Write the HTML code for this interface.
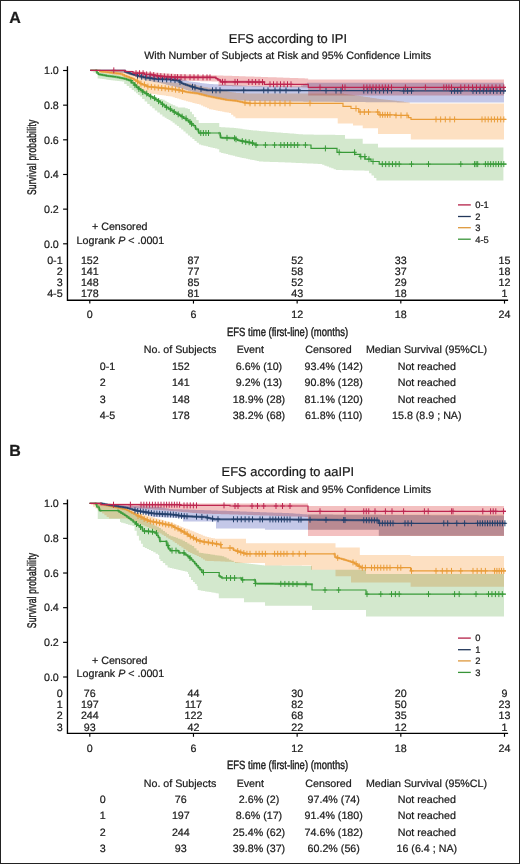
<!DOCTYPE html>
<html><head><meta charset="utf-8"><style>
html,body{margin:0;padding:0;background:#fff;}
svg{display:block;}
text{font-family:"Liberation Sans",sans-serif;fill:#1a1a1a;stroke:#1a1a1a;stroke-width:0.22px;paint-order:stroke;text-rendering:geometricPrecision;}
</style></head><body>
<svg width="520" height="864" viewBox="0 0 520 864">
<rect x="0" y="0" width="520" height="864" fill="#fff"/>
<text x="9.2" y="22.60" font-size="16" font-weight="bold">A</text>
<text x="287.90" y="42.50" text-anchor="middle" font-size="12.9" >EFS according to IPI</text>
<text x="287.70" y="59.40" text-anchor="middle" font-size="10.7" >With Number of Subjects at Risk and 95% Confidence Limits</text>
<path d="M67.45 66.20 V300.20 H508.1" fill="none" stroke="#000" stroke-width="1.35"/>
<path d="M63.1 243.80 H67.4" stroke="#000" stroke-width="1.15"/>
<text x="58.80" y="247.50" text-anchor="end" font-size="10.7" >0.0</text>
<path d="M63.1 209.14 H67.4" stroke="#000" stroke-width="1.15"/>
<text x="58.80" y="212.84" text-anchor="end" font-size="10.7" >0.2</text>
<path d="M63.1 174.48 H67.4" stroke="#000" stroke-width="1.15"/>
<text x="58.80" y="178.18" text-anchor="end" font-size="10.7" >0.4</text>
<path d="M63.1 139.82 H67.4" stroke="#000" stroke-width="1.15"/>
<text x="58.80" y="143.52" text-anchor="end" font-size="10.7" >0.6</text>
<path d="M63.1 105.16 H67.4" stroke="#000" stroke-width="1.15"/>
<text x="58.80" y="108.86" text-anchor="end" font-size="10.7" >0.8</text>
<path d="M63.1 70.50 H67.4" stroke="#000" stroke-width="1.15"/>
<text x="58.80" y="74.20" text-anchor="end" font-size="10.7" >1.0</text>
<path d="M89.80 300.20 V303.60" stroke="#000" stroke-width="1.15"/>
<text x="89.80" y="318.30" text-anchor="middle" font-size="10.7" >0</text>
<path d="M193.47 300.20 V303.60" stroke="#000" stroke-width="1.15"/>
<text x="193.47" y="318.30" text-anchor="middle" font-size="10.7" >6</text>
<path d="M297.15 300.20 V303.60" stroke="#000" stroke-width="1.15"/>
<text x="297.15" y="318.30" text-anchor="middle" font-size="10.7" >12</text>
<path d="M400.82 300.20 V303.60" stroke="#000" stroke-width="1.15"/>
<text x="400.82" y="318.30" text-anchor="middle" font-size="10.7" >18</text>
<path d="M504.50 300.20 V303.60" stroke="#000" stroke-width="1.15"/>
<text x="504.50" y="318.30" text-anchor="middle" font-size="10.7" >24</text>
<text transform="translate(287.5 335.80) scale(0.79 1)" x="0" y="0" text-anchor="middle" font-size="12" style="stroke-width:0.4px">EFS time (first-line) (months)</text>
<text transform="translate(35.9 157.30) rotate(-90) scale(0.68 1)" x="0" y="0" text-anchor="middle" font-size="12.5" letter-spacing="0.3" style="stroke-width:0.38px">Survival probability</text>
<text x="92.00" y="230.40" text-anchor="start" font-size="10.7" >+ Censored</text>
<text x="76.6" y="243.50" font-size="10.7">Logrank <tspan font-style="italic">P</tspan> &lt; .0001</text>
<text x="62.60" y="263.50" text-anchor="end" font-size="10.7" >0-1</text>
<text x="89.80" y="263.50" text-anchor="middle" font-size="10.7" >152</text>
<text x="193.47" y="263.50" text-anchor="middle" font-size="10.7" >87</text>
<text x="297.15" y="263.50" text-anchor="middle" font-size="10.7" >52</text>
<text x="400.82" y="263.50" text-anchor="middle" font-size="10.7" >33</text>
<text x="504.50" y="263.50" text-anchor="middle" font-size="10.7" >15</text>
<text x="62.60" y="274.90" text-anchor="end" font-size="10.7" >2</text>
<text x="89.80" y="274.90" text-anchor="middle" font-size="10.7" >141</text>
<text x="193.47" y="274.90" text-anchor="middle" font-size="10.7" >77</text>
<text x="297.15" y="274.90" text-anchor="middle" font-size="10.7" >58</text>
<text x="400.82" y="274.90" text-anchor="middle" font-size="10.7" >37</text>
<text x="504.50" y="274.90" text-anchor="middle" font-size="10.7" >18</text>
<text x="62.60" y="286.20" text-anchor="end" font-size="10.7" >3</text>
<text x="89.80" y="286.20" text-anchor="middle" font-size="10.7" >148</text>
<text x="193.47" y="286.20" text-anchor="middle" font-size="10.7" >85</text>
<text x="297.15" y="286.20" text-anchor="middle" font-size="10.7" >52</text>
<text x="400.82" y="286.20" text-anchor="middle" font-size="10.7" >29</text>
<text x="504.50" y="286.20" text-anchor="middle" font-size="10.7" >12</text>
<text x="62.60" y="297.40" text-anchor="end" font-size="10.7" >4-5</text>
<text x="89.80" y="297.40" text-anchor="middle" font-size="10.7" >178</text>
<text x="193.47" y="297.40" text-anchor="middle" font-size="10.7" >81</text>
<text x="297.15" y="297.40" text-anchor="middle" font-size="10.7" >43</text>
<text x="400.82" y="297.40" text-anchor="middle" font-size="10.7" >18</text>
<text x="504.50" y="297.40" text-anchor="middle" font-size="10.7" >1</text>
<path d="M458 204.90 H470.8" stroke="#b52248" stroke-width="1.3"/>
<text x="475.20" y="208.20" text-anchor="start" font-size="9.4" >0-1</text>
<path d="M458 216.50 H470.8" stroke="#22375a" stroke-width="1.3"/>
<text x="475.20" y="219.80" text-anchor="start" font-size="9.4" >2</text>
<path d="M458 227.70 H470.8" stroke="#de983c" stroke-width="1.3"/>
<text x="475.20" y="231.00" text-anchor="start" font-size="9.4" >3</text>
<path d="M458 239.20 H470.8" stroke="#389438" stroke-width="1.3"/>
<text x="475.20" y="242.50" text-anchor="start" font-size="9.4" >4-5</text>
<text x="180.00" y="353.40" text-anchor="middle" font-size="10.7" >No. of Subjects</text>
<text x="250.30" y="353.40" text-anchor="middle" font-size="10.7" >Event</text>
<text x="328.50" y="353.40" text-anchor="middle" font-size="10.7" >Censored</text>
<text x="426.50" y="353.40" text-anchor="middle" font-size="10.7" >Median Survival (95%CL)</text>
<text x="99.80" y="369.70" text-anchor="start" font-size="10.7" >0-1</text>
<text x="180.80" y="369.70" text-anchor="middle" font-size="10.7" >152</text>
<text x="259.00" y="369.70" text-anchor="middle" font-size="10.7" >6.6% (10)</text>
<text x="333.70" y="369.70" text-anchor="middle" font-size="10.7" >93.4% (142)</text>
<text x="426.80" y="369.70" text-anchor="middle" font-size="10.7" >Not reached</text>
<text x="99.80" y="386.10" text-anchor="start" font-size="10.7" >2</text>
<text x="180.80" y="386.10" text-anchor="middle" font-size="10.7" >141</text>
<text x="259.00" y="386.10" text-anchor="middle" font-size="10.7" >9.2% (13)</text>
<text x="333.70" y="386.10" text-anchor="middle" font-size="10.7" >90.8% (128)</text>
<text x="426.80" y="386.10" text-anchor="middle" font-size="10.7" >Not reached</text>
<text x="99.80" y="402.50" text-anchor="start" font-size="10.7" >3</text>
<text x="180.80" y="402.50" text-anchor="middle" font-size="10.7" >148</text>
<text x="259.00" y="402.50" text-anchor="middle" font-size="10.7" >18.9% (28)</text>
<text x="333.70" y="402.50" text-anchor="middle" font-size="10.7" >81.1% (120)</text>
<text x="426.80" y="402.50" text-anchor="middle" font-size="10.7" >Not reached</text>
<text x="99.80" y="418.70" text-anchor="start" font-size="10.7" >4-5</text>
<text x="180.80" y="418.70" text-anchor="middle" font-size="10.7" >178</text>
<text x="259.00" y="418.70" text-anchor="middle" font-size="10.7" >38.2% (68)</text>
<text x="333.70" y="418.70" text-anchor="middle" font-size="10.7" >61.8% (110)</text>
<text x="426.80" y="418.70" text-anchor="middle" font-size="10.7" >15.8 (8.9 ; NA)</text>
<path d="M90.20 70.40 L96.30 70.40 L97.65 70.40 L97.65 72.50 L99.00 72.50 L100.09 72.50 L100.09 72.75 L101.19 72.75 L102.28 72.75 L102.28 73.00 L103.38 73.00 L104.47 73.00 L104.47 73.25 L105.56 73.25 L106.66 73.25 L106.66 73.50 L107.75 73.50 L108.84 73.50 L108.84 73.75 L109.94 73.75 L111.03 73.75 L111.03 74.00 L112.12 74.00 L113.22 74.00 L113.22 74.25 L114.31 74.25 L115.41 74.25 L115.41 74.50 L116.50 74.50 L117.47 74.50 L117.47 75.00 L118.43 75.00 L119.40 75.00 L119.40 75.50 L120.37 75.50 L121.33 75.50 L121.33 76.00 L122.30 76.00 L123.26 76.00 L123.26 76.50 L124.22 76.50 L125.19 76.50 L125.19 77.00 L126.15 77.00 L127.11 77.00 L127.11 77.50 L128.07 77.50 L129.04 77.50 L129.04 78.00 L130.00 78.00 L131.50 78.00 L131.50 81.20 L133.00 81.20 L133.97 81.20 L133.97 82.75 L134.95 82.75 L135.93 82.75 L135.93 84.30 L136.90 84.30 L137.88 84.30 L137.88 85.85 L138.85 85.85 L139.83 85.85 L139.83 87.40 L140.80 87.40 L142.08 87.40 L142.08 89.43 L143.37 89.43 L144.65 89.43 L144.65 91.47 L145.93 91.47 L147.22 91.47 L147.22 93.50 L148.50 93.50 L149.75 93.50 L149.75 94.80 L151.00 94.80 L152.25 94.80 L152.25 96.10 L153.50 96.10 L154.75 96.10 L154.75 97.40 L156.00 97.40 L157.28 97.40 L157.28 98.17 L158.57 98.17 L159.85 98.17 L159.85 98.93 L161.13 98.93 L162.42 98.93 L162.42 99.70 L163.70 99.70 L164.67 99.70 L164.67 100.85 L165.65 100.85 L166.62 100.85 L166.62 102.00 L167.60 102.00 L168.57 102.00 L168.57 103.15 L169.55 103.15 L170.53 103.15 L170.53 104.30 L171.50 104.30 L172.75 104.30 L172.75 105.37 L174.00 105.37 L175.25 105.37 L175.25 106.43 L176.50 106.43 L177.75 106.43 L177.75 107.50 L179.00 107.50 L184.00 107.50 L185.25 107.50 L185.25 108.25 L186.50 108.25 L187.75 108.25 L187.75 109.00 L189.00 109.00 L190.00 109.00 L190.00 111.67 L191.00 111.67 L192.00 111.67 L192.00 114.33 L193.00 114.33 L194.00 114.33 L194.00 117.00 L195.00 117.00 L196.25 117.00 L196.25 120.00 L197.50 120.00 L198.75 120.00 L198.75 123.00 L200.00 123.00 L218.50 123.00 L219.25 123.00 L219.25 127.00 L220.00 127.00 L221.07 127.00 L221.07 127.14 L222.14 127.14 L223.21 127.14 L223.21 127.29 L224.29 127.29 L225.36 127.29 L225.36 127.43 L226.43 127.43 L227.50 127.43 L227.50 127.57 L228.57 127.57 L229.64 127.57 L229.64 127.71 L230.71 127.71 L231.79 127.71 L231.79 127.86 L232.86 127.86 L233.93 127.86 L233.93 128.00 L235.00 128.00 L236.07 128.00 L236.07 128.29 L237.14 128.29 L238.21 128.29 L238.21 128.57 L239.29 128.57 L240.36 128.57 L240.36 128.86 L241.43 128.86 L242.50 128.86 L242.50 129.14 L243.57 129.14 L244.64 129.14 L244.64 129.43 L245.71 129.43 L246.79 129.43 L246.79 129.71 L247.86 129.71 L248.93 129.71 L248.93 130.00 L250.00 130.00 L251.00 130.00 L251.00 130.20 L252.00 130.20 L253.00 130.20 L253.00 130.40 L254.00 130.40 L255.00 130.40 L255.00 130.60 L256.00 130.60 L257.00 130.60 L257.00 130.80 L258.00 130.80 L259.00 130.80 L259.00 131.00 L260.00 131.00 L261.10 131.00 L261.10 131.18 L262.20 131.18 L263.30 131.18 L263.30 131.35 L264.40 131.35 L265.50 131.35 L265.50 131.53 L266.60 131.53 L267.70 131.53 L267.70 131.70 L268.80 131.70 L269.90 131.70 L269.90 131.88 L271.00 131.88 L272.10 131.88 L272.10 132.05 L273.20 132.05 L274.30 132.05 L274.30 132.22 L275.40 132.22 L276.50 132.22 L276.50 132.40 L277.60 132.40 L278.70 132.40 L278.70 132.57 L279.80 132.57 L280.90 132.57 L280.90 132.75 L282.00 132.75 L283.10 132.75 L283.10 132.93 L284.20 132.93 L285.30 132.93 L285.30 133.10 L286.40 133.10 L287.50 133.10 L287.50 133.28 L288.60 133.28 L289.70 133.28 L289.70 133.45 L290.80 133.45 L291.90 133.45 L291.90 133.62 L293.00 133.62 L294.10 133.62 L294.10 133.80 L295.20 133.80 L296.30 133.80 L296.30 133.97 L297.40 133.97 L298.50 133.97 L298.50 134.15 L299.60 134.15 L300.70 134.15 L300.70 134.32 L301.80 134.32 L302.90 134.32 L302.90 134.50 L304.00 134.50 L305.08 134.50 L305.08 134.53 L306.16 134.53 L307.24 134.53 L307.24 134.55 L308.32 134.55 L309.39 134.55 L309.39 134.58 L310.47 134.58 L311.55 134.58 L311.55 134.61 L312.63 134.61 L313.71 134.61 L313.71 134.63 L314.79 134.63 L315.87 134.63 L315.87 134.66 L316.95 134.66 L318.03 134.66 L318.03 134.68 L319.11 134.68 L320.18 134.68 L320.18 134.71 L321.26 134.71 L322.34 134.71 L322.34 134.74 L323.42 134.74 L324.50 134.74 L324.50 134.76 L325.58 134.76 L326.66 134.76 L326.66 134.79 L327.74 134.79 L328.82 134.79 L328.82 134.82 L329.89 134.82 L330.97 134.82 L330.97 134.84 L332.05 134.84 L333.13 134.84 L333.13 134.87 L334.21 134.87 L335.29 134.87 L335.29 134.89 L336.37 134.89 L337.45 134.89 L337.45 134.92 L338.53 134.92 L339.61 134.92 L339.61 134.95 L340.68 134.95 L341.76 134.95 L341.76 134.97 L342.84 134.97 L343.92 134.97 L343.92 135.00 L345.00 135.00 L345.00 138.80 L362.70 138.80 L362.70 143.70 L378.00 143.70 L378.00 147.50 L503.40 147.50 L503.40 180.50 L377.60 180.50 L376.38 180.50 L376.38 178.05 L375.15 178.05 L373.93 178.05 L373.93 175.60 L372.70 175.60 L371.48 175.60 L371.48 173.15 L370.25 173.15 L369.02 173.15 L369.02 170.70 L367.80 170.70 L366.70 170.70 L366.70 170.65 L365.60 170.65 L364.50 170.65 L364.50 170.60 L363.40 170.60 L362.30 170.60 L362.30 170.55 L361.20 170.55 L360.10 170.55 L360.10 170.50 L359.00 170.50 L357.90 170.50 L357.90 170.45 L356.80 170.45 L355.70 170.45 L355.70 170.40 L354.60 170.40 L353.50 170.40 L353.50 170.35 L352.40 170.35 L351.30 170.35 L351.30 170.30 L350.20 170.30 L349.10 170.30 L349.10 170.25 L348.00 170.25 L346.90 170.25 L346.90 170.20 L345.80 170.20 L344.70 170.20 L344.70 170.15 L343.60 170.15 L342.50 170.15 L342.50 170.10 L341.40 170.10 L340.30 170.10 L340.30 170.05 L339.20 170.05 L338.10 170.05 L338.10 170.00 L337.00 170.00 L335.86 170.00 L335.86 169.14 L334.71 169.14 L333.57 169.14 L333.57 168.29 L332.43 168.29 L331.29 168.29 L331.29 167.43 L330.14 167.43 L329.00 167.43 L329.00 166.57 L327.86 166.57 L326.71 166.57 L326.71 165.71 L325.57 165.71 L324.43 165.71 L324.43 164.86 L323.29 164.86 L322.14 164.86 L322.14 164.00 L321.00 164.00 L319.90 164.00 L319.90 163.90 L318.80 163.90 L317.70 163.90 L317.70 163.80 L316.60 163.80 L315.50 163.80 L315.50 163.70 L314.40 163.70 L313.30 163.70 L313.30 163.60 L312.20 163.60 L311.10 163.60 L311.10 163.50 L310.00 163.50 L308.90 163.50 L308.90 163.40 L307.80 163.40 L306.70 163.40 L306.70 163.30 L305.60 163.30 L304.50 163.30 L304.50 163.20 L303.40 163.20 L302.30 163.20 L302.30 163.10 L301.20 163.10 L300.10 163.10 L300.10 163.00 L299.00 163.00 L297.90 163.00 L297.90 162.90 L296.80 162.90 L295.70 162.90 L295.70 162.80 L294.60 162.80 L293.50 162.80 L293.50 162.70 L292.40 162.70 L291.30 162.70 L291.30 162.60 L290.20 162.60 L289.10 162.60 L289.10 162.50 L288.00 162.50 L286.92 162.50 L286.92 162.42 L285.85 162.42 L284.77 162.42 L284.77 162.35 L283.69 162.35 L282.62 162.35 L282.62 162.27 L281.54 162.27 L280.46 162.27 L280.46 162.19 L279.38 162.19 L278.31 162.19 L278.31 162.12 L277.23 162.12 L276.15 162.12 L276.15 162.04 L275.08 162.04 L274.00 162.04 L274.00 161.96 L272.92 161.96 L271.85 161.96 L271.85 161.88 L270.77 161.88 L269.69 161.88 L269.69 161.81 L268.62 161.81 L267.54 161.81 L267.54 161.73 L266.46 161.73 L265.38 161.73 L265.38 161.65 L264.31 161.65 L263.23 161.65 L263.23 161.58 L262.15 161.58 L261.08 161.58 L261.08 161.50 L260.00 161.50 L258.90 161.50 L258.90 161.04 L257.80 161.04 L256.70 161.04 L256.70 160.58 L255.60 160.58 L254.50 160.58 L254.50 160.12 L253.40 160.12 L252.30 160.12 L252.30 159.66 L251.20 159.66 L250.10 159.66 L250.10 159.20 L249.00 159.20 L247.95 159.20 L247.95 158.76 L246.90 158.76 L245.85 158.76 L245.85 158.32 L244.80 158.32 L243.75 158.32 L243.75 157.88 L242.70 157.88 L241.65 157.88 L241.65 157.44 L240.60 157.44 L239.55 157.44 L239.55 157.00 L238.50 157.00 L237.34 157.00 L237.34 156.41 L236.19 156.41 L235.03 156.41 L235.03 155.82 L233.88 155.82 L232.72 155.82 L232.72 155.24 L231.56 155.24 L230.41 155.24 L230.41 154.65 L229.25 154.65 L228.09 154.65 L228.09 154.06 L226.94 154.06 L225.78 154.06 L225.78 153.48 L224.62 153.48 L223.47 153.48 L223.47 152.89 L222.31 152.89 L221.16 152.89 L221.16 152.30 L220.00 152.30 L219.25 152.30 L219.25 149.20 L218.50 149.20 L217.34 149.20 L217.34 148.62 L216.19 148.62 L215.03 148.62 L215.03 148.05 L213.88 148.05 L212.72 148.05 L212.72 147.47 L211.56 147.47 L210.41 147.47 L210.41 146.90 L209.25 146.90 L208.09 146.90 L208.09 146.32 L206.94 146.32 L205.78 146.32 L205.78 145.75 L204.62 145.75 L203.47 145.75 L203.47 145.17 L202.31 145.17 L201.16 145.17 L201.16 144.60 L200.00 144.60 L198.90 144.60 L198.90 142.76 L197.80 142.76 L196.70 142.76 L196.70 140.92 L195.60 140.92 L194.50 140.92 L194.50 139.08 L193.40 139.08 L192.30 139.08 L192.30 137.24 L191.20 137.24 L190.10 137.24 L190.10 135.40 L189.00 135.40 L187.88 135.40 L187.88 133.47 L186.75 133.47 L185.62 133.47 L185.62 131.55 L184.50 131.55 L183.38 131.55 L183.38 129.62 L182.25 129.62 L181.12 129.62 L181.12 127.70 L180.00 127.70 L178.94 127.70 L178.94 126.08 L177.88 126.08 L176.81 126.08 L176.81 124.45 L175.75 124.45 L174.69 124.45 L174.69 122.83 L173.62 122.83 L172.56 122.83 L172.56 121.20 L171.50 121.20 L170.53 121.20 L170.53 120.05 L169.55 120.05 L168.57 120.05 L168.57 118.90 L167.60 118.90 L166.62 118.90 L166.62 117.75 L165.65 117.75 L164.67 117.75 L164.67 116.60 L163.70 116.60 L162.42 116.60 L162.42 114.57 L161.13 114.57 L159.85 114.57 L159.85 112.53 L158.57 112.53 L157.28 112.53 L157.28 110.50 L156.00 110.50 L154.75 110.50 L154.75 108.33 L153.50 108.33 L152.25 108.33 L152.25 106.17 L151.00 106.17 L149.75 106.17 L149.75 104.00 L148.50 104.00 L147.22 104.00 L147.22 101.50 L145.93 101.50 L144.65 101.50 L144.65 99.00 L143.37 99.00 L142.08 99.00 L142.08 96.50 L140.80 96.50 L139.83 96.50 L139.83 94.88 L138.85 94.88 L137.88 94.88 L137.88 93.25 L136.90 93.25 L135.93 93.25 L135.93 91.62 L134.95 91.62 L133.97 91.62 L133.97 90.00 L133.00 90.00 L131.73 90.00 L131.73 88.00 L130.47 88.00 L129.20 88.00 L129.20 86.00 L127.93 86.00 L126.67 86.00 L126.67 84.00 L125.40 84.00 L124.20 84.00 L124.20 81.60 L123.00 81.60 L121.85 81.60 L121.85 81.32 L120.70 81.32 L119.55 81.32 L119.55 81.05 L118.40 81.05 L117.25 81.05 L117.25 80.78 L116.10 80.78 L114.95 80.78 L114.95 80.50 L113.80 80.50 L112.74 80.50 L112.74 80.21 L111.69 80.21 L110.63 80.21 L110.63 79.93 L109.57 79.93 L108.51 79.93 L108.51 79.64 L107.46 79.64 L106.40 79.64 L106.40 79.36 L105.34 79.36 L104.29 79.36 L104.29 79.07 L103.23 79.07 L102.17 79.07 L102.17 78.79 L101.11 78.79 L100.06 78.79 L100.06 78.50 L99.00 78.50 L97.65 78.50 L97.65 73.50 L96.30 73.50 L95.28 73.50 L95.28 72.47 L94.27 72.47 L93.25 72.47 L93.25 71.43 L92.23 71.43 L91.22 71.43 L91.22 70.40 L90.20 70.40Z" fill="#d3e8cd" style="mix-blend-mode:multiply"/>
<path d="M90.20 70.30 L100.00 70.30 L101.08 70.30 L101.08 70.42 L102.15 70.42 L103.22 70.42 L103.22 70.54 L104.30 70.54 L105.38 70.54 L105.38 70.66 L106.45 70.66 L107.53 70.66 L107.53 70.78 L108.60 70.78 L109.67 70.78 L109.67 70.90 L110.75 70.90 L111.83 70.90 L111.83 71.02 L112.90 71.02 L113.97 71.02 L113.97 71.14 L115.05 71.14 L116.12 71.14 L116.12 71.26 L117.20 71.26 L118.28 71.26 L118.28 71.38 L119.35 71.38 L120.42 71.38 L120.42 71.50 L121.50 71.50 L122.65 71.50 L122.65 71.90 L123.80 71.90 L124.95 71.90 L124.95 72.30 L126.10 72.30 L127.25 72.30 L127.25 72.70 L128.40 72.70 L129.55 72.70 L129.55 73.10 L130.70 73.10 L131.85 73.10 L131.85 73.50 L133.00 73.50 L134.16 73.50 L134.16 74.20 L135.32 74.20 L136.48 74.20 L136.48 74.90 L137.64 74.90 L138.80 74.90 L138.80 75.60 L139.96 75.60 L141.12 75.60 L141.12 76.30 L142.28 76.30 L143.44 76.30 L143.44 77.00 L144.60 77.00 L145.70 77.00 L145.70 77.66 L146.80 77.66 L147.90 77.66 L147.90 78.31 L149.00 78.31 L150.10 78.31 L150.10 78.97 L151.20 78.97 L152.30 78.97 L152.30 79.63 L153.40 79.63 L154.50 79.63 L154.50 80.29 L155.60 80.29 L156.70 80.29 L156.70 80.94 L157.80 80.94 L158.90 80.94 L158.90 81.60 L160.00 81.60 L161.07 81.60 L161.07 81.74 L162.14 81.74 L163.21 81.74 L163.21 81.87 L164.29 81.87 L165.36 81.87 L165.36 82.01 L166.43 82.01 L167.50 82.01 L167.50 82.14 L168.57 82.14 L169.64 82.14 L169.64 82.28 L170.71 82.28 L171.79 82.28 L171.79 82.41 L172.86 82.41 L173.93 82.41 L173.93 82.55 L175.00 82.55 L176.07 82.55 L176.07 82.69 L177.14 82.69 L178.21 82.69 L178.21 82.82 L179.29 82.82 L180.36 82.82 L180.36 82.96 L181.43 82.96 L182.50 82.96 L182.50 83.09 L183.57 83.09 L184.64 83.09 L184.64 83.23 L185.71 83.23 L186.79 83.23 L186.79 83.36 L187.86 83.36 L188.93 83.36 L188.93 83.50 L190.00 83.50 L191.00 83.50 L191.00 84.00 L192.00 84.00 L193.00 84.00 L193.00 84.50 L194.00 84.50 L195.00 84.50 L195.00 85.00 L196.00 85.00 L197.00 85.00 L197.00 85.50 L198.00 85.50 L199.00 85.50 L199.00 86.00 L200.00 86.00 L201.11 86.00 L201.11 86.44 L202.22 86.44 L203.33 86.44 L203.33 86.89 L204.44 86.89 L205.56 86.89 L205.56 87.33 L206.67 87.33 L207.78 87.33 L207.78 87.78 L208.89 87.78 L210.00 87.78 L210.00 88.22 L211.11 88.22 L212.22 88.22 L212.22 88.67 L213.33 88.67 L214.44 88.67 L214.44 89.11 L215.56 89.11 L216.67 89.11 L216.67 89.56 L217.78 89.56 L218.89 89.56 L218.89 90.00 L220.00 90.00 L221.06 90.00 L221.06 90.38 L222.12 90.38 L223.19 90.38 L223.19 90.75 L224.25 90.75 L225.31 90.75 L225.31 91.12 L226.38 91.12 L227.44 91.12 L227.44 91.50 L228.50 91.50 L229.56 91.50 L229.56 91.88 L230.62 91.88 L231.69 91.88 L231.69 92.25 L232.75 92.25 L233.81 92.25 L233.81 92.62 L234.88 92.62 L235.94 92.62 L235.94 93.00 L237.00 93.00 L238.08 93.00 L238.08 93.08 L239.17 93.08 L240.25 93.08 L240.25 93.17 L241.33 93.17 L242.42 93.17 L242.42 93.25 L243.50 93.25 L244.58 93.25 L244.58 93.33 L245.67 93.33 L246.75 93.33 L246.75 93.42 L247.83 93.42 L248.92 93.42 L248.92 93.50 L250.00 93.50 L251.11 93.50 L251.11 93.50 L252.21 93.50 L253.32 93.50 L253.32 93.50 L254.43 93.50 L255.54 93.50 L255.54 93.51 L256.64 93.51 L257.75 93.51 L257.75 93.51 L258.86 93.51 L259.96 93.51 L259.96 93.51 L261.07 93.51 L262.18 93.51 L262.18 93.51 L263.29 93.51 L264.39 93.51 L264.39 93.52 L265.50 93.52 L266.61 93.52 L266.61 93.52 L267.71 93.52 L268.82 93.52 L268.82 93.52 L269.93 93.52 L271.04 93.52 L271.04 93.52 L272.14 93.52 L273.25 93.52 L273.25 93.53 L274.36 93.53 L275.46 93.53 L275.46 93.53 L276.57 93.53 L277.68 93.53 L277.68 93.53 L278.79 93.53 L279.89 93.53 L279.89 93.53 L281.00 93.53 L282.11 93.53 L282.11 93.54 L283.21 93.54 L284.32 93.54 L284.32 93.54 L285.43 93.54 L286.54 93.54 L286.54 93.54 L287.64 93.54 L288.75 93.54 L288.75 93.54 L289.86 93.54 L290.96 93.54 L290.96 93.55 L292.07 93.55 L293.18 93.55 L293.18 93.55 L294.29 93.55 L295.39 93.55 L295.39 93.55 L296.50 93.55 L297.61 93.55 L297.61 93.55 L298.71 93.55 L299.82 93.55 L299.82 93.55 L300.93 93.55 L302.04 93.55 L302.04 93.56 L303.14 93.56 L304.25 93.56 L304.25 93.56 L305.36 93.56 L306.46 93.56 L306.46 93.56 L307.57 93.56 L308.68 93.56 L308.68 93.56 L309.79 93.56 L310.89 93.56 L310.89 93.57 L312.00 93.57 L313.11 93.57 L313.11 93.57 L314.21 93.57 L315.32 93.57 L315.32 93.57 L316.43 93.57 L317.54 93.57 L317.54 93.57 L318.64 93.57 L319.75 93.57 L319.75 93.58 L320.86 93.58 L321.96 93.58 L321.96 93.58 L323.07 93.58 L324.18 93.58 L324.18 93.58 L325.29 93.58 L326.39 93.58 L326.39 93.58 L327.50 93.58 L328.61 93.58 L328.61 93.59 L329.71 93.59 L330.82 93.59 L330.82 93.59 L331.93 93.59 L333.04 93.59 L333.04 93.59 L334.14 93.59 L335.25 93.59 L335.25 93.59 L336.36 93.59 L337.46 93.59 L337.46 93.60 L338.57 93.60 L339.68 93.60 L339.68 93.60 L340.79 93.60 L341.89 93.60 L341.89 93.60 L343.00 93.60 L344.06 93.60 L344.06 93.90 L345.12 93.90 L346.19 93.90 L346.19 94.20 L347.25 94.20 L348.31 94.20 L348.31 94.50 L349.38 94.50 L350.44 94.50 L350.44 94.80 L351.50 94.80 L352.56 94.80 L352.56 95.10 L353.62 95.10 L354.69 95.10 L354.69 95.40 L355.75 95.40 L356.81 95.40 L356.81 95.70 L357.88 95.70 L358.94 95.70 L358.94 96.00 L360.00 96.00 L361.11 96.00 L361.11 96.33 L362.22 96.33 L363.33 96.33 L363.33 96.67 L364.44 96.67 L365.56 96.67 L365.56 97.00 L366.67 97.00 L367.78 97.00 L367.78 97.33 L368.89 97.33 L370.00 97.33 L370.00 97.67 L371.11 97.67 L372.22 97.67 L372.22 98.00 L373.33 98.00 L374.44 98.00 L374.44 98.33 L375.56 98.33 L376.67 98.33 L376.67 98.67 L377.78 98.67 L378.89 98.67 L378.89 99.00 L380.00 99.00 L381.14 99.00 L381.14 99.26 L382.28 99.26 L383.42 99.26 L383.42 99.52 L384.55 99.52 L385.69 99.52 L385.69 99.78 L386.83 99.78 L387.97 99.78 L387.97 100.05 L389.11 100.05 L390.25 100.05 L390.25 100.31 L391.38 100.31 L392.52 100.31 L392.52 100.57 L393.66 100.57 L394.80 100.57 L394.80 100.83 L395.94 100.83 L397.08 100.83 L397.08 101.09 L398.22 101.09 L399.35 101.09 L399.35 101.35 L400.49 101.35 L401.63 101.35 L401.63 101.62 L402.77 101.62 L403.91 101.62 L403.91 101.88 L405.05 101.88 L406.18 101.88 L406.18 102.14 L407.32 102.14 L408.46 102.14 L408.46 102.40 L409.60 102.40 L409.80 102.40 L409.80 103.50 L410.00 103.50 L504.00 103.50 L504.00 139.60 L410.80 139.60 L410.80 134.00 L378.00 134.00 L378.00 128.30 L362.70 128.30 L362.70 125.40 L353.00 125.40 L353.00 123.50 L337.70 123.50 L337.70 118.30 L236.50 118.30 L235.42 118.30 L235.42 116.53 L234.33 116.53 L233.25 116.53 L233.25 114.77 L232.17 114.77 L231.08 114.77 L231.08 113.00 L230.00 113.00 L228.89 113.00 L228.89 112.58 L227.78 112.58 L226.67 112.58 L226.67 112.16 L225.56 112.16 L224.44 112.16 L224.44 111.73 L223.33 111.73 L222.22 111.73 L222.22 111.31 L221.11 111.31 L220.00 111.31 L220.00 110.89 L218.89 110.89 L217.78 110.89 L217.78 110.47 L216.67 110.47 L215.56 110.47 L215.56 110.04 L214.44 110.04 L213.33 110.04 L213.33 109.62 L212.22 109.62 L211.11 109.62 L211.11 109.20 L210.00 109.20 L209.00 109.20 L209.00 108.28 L208.00 108.28 L207.00 108.28 L207.00 107.36 L206.00 107.36 L205.00 107.36 L205.00 106.44 L204.00 106.44 L203.00 106.44 L203.00 105.52 L202.00 105.52 L201.00 105.52 L201.00 104.60 L200.00 104.60 L198.92 104.60 L198.92 104.03 L197.83 104.03 L196.75 104.03 L196.75 103.47 L195.67 103.47 L194.58 103.47 L194.58 102.90 L193.50 102.90 L192.42 102.90 L192.42 102.33 L191.33 102.33 L190.25 102.33 L190.25 101.77 L189.17 101.77 L188.08 101.77 L188.08 101.20 L187.00 101.20 L185.89 101.20 L185.89 100.54 L184.79 100.54 L183.68 100.54 L183.68 99.89 L182.57 99.89 L181.46 99.89 L181.46 99.23 L180.36 99.23 L179.25 99.23 L179.25 98.57 L178.14 98.57 L177.04 98.57 L177.04 97.91 L175.93 97.91 L174.82 97.91 L174.82 97.26 L173.71 97.26 L172.61 97.26 L172.61 96.60 L171.50 96.60 L170.39 96.60 L170.39 96.27 L169.29 96.27 L168.18 96.27 L168.18 95.94 L167.07 95.94 L165.96 95.94 L165.96 95.61 L164.86 95.61 L163.75 95.61 L163.75 95.29 L162.64 95.29 L161.54 95.29 L161.54 94.96 L160.43 94.96 L159.32 94.96 L159.32 94.63 L158.21 94.63 L157.11 94.63 L157.11 94.30 L156.00 94.30 L154.91 94.30 L154.91 93.97 L153.83 93.97 L152.74 93.97 L152.74 93.64 L151.66 93.64 L150.57 93.64 L150.57 93.31 L149.49 93.31 L148.40 93.31 L148.40 92.99 L147.31 92.99 L146.23 92.99 L146.23 92.66 L145.14 92.66 L144.06 92.66 L144.06 92.33 L142.97 92.33 L141.89 92.33 L141.89 92.00 L140.80 92.00 L139.83 92.00 L139.83 89.50 L138.85 89.50 L137.88 89.50 L137.88 87.00 L136.90 87.00 L135.93 87.00 L135.93 84.50 L134.95 84.50 L133.97 84.50 L133.97 82.00 L133.00 82.00 L131.85 82.00 L131.85 80.80 L130.70 80.80 L129.55 80.80 L129.55 79.60 L128.40 79.60 L127.25 79.60 L127.25 78.40 L126.10 78.40 L124.95 78.40 L124.95 77.20 L123.80 77.20 L122.65 77.20 L122.65 76.00 L121.50 76.00 L120.42 76.00 L120.42 75.60 L119.35 75.60 L118.28 75.60 L118.28 75.20 L117.20 75.20 L116.12 75.20 L116.12 74.80 L115.05 74.80 L113.97 74.80 L113.97 74.40 L112.90 74.40 L111.83 74.40 L111.83 74.00 L110.75 74.00 L109.67 74.00 L109.67 73.60 L108.60 73.60 L107.53 73.60 L107.53 73.20 L106.45 73.20 L105.38 73.20 L105.38 72.80 L104.30 72.80 L103.22 72.80 L103.22 72.40 L102.15 72.40 L101.08 72.40 L101.08 72.00 L100.00 72.00 L98.78 72.00 L98.78 71.60 L97.55 71.60 L96.32 71.60 L96.32 71.20 L95.10 71.20 L93.88 71.20 L93.88 70.80 L92.65 70.80 L91.43 70.80 L91.43 70.40 L90.20 70.40Z" fill="#fde0c2" style="mix-blend-mode:multiply"/>
<path d="M90.20 70.30 L91.29 70.30 L91.29 70.31 L92.38 70.31 L93.46 70.31 L93.46 70.33 L94.55 70.33 L95.64 70.33 L95.64 70.34 L96.73 70.34 L97.81 70.34 L97.81 70.35 L98.90 70.35 L99.99 70.35 L99.99 70.36 L101.08 70.36 L102.16 70.36 L102.16 70.38 L103.25 70.38 L104.34 70.38 L104.34 70.39 L105.42 70.39 L106.51 70.39 L106.51 70.40 L107.60 70.40 L108.69 70.40 L108.69 70.41 L109.78 70.41 L110.86 70.41 L110.86 70.42 L111.95 70.42 L113.04 70.42 L113.04 70.44 L114.12 70.44 L115.21 70.44 L115.21 70.45 L116.30 70.45 L117.39 70.45 L117.39 70.46 L118.47 70.46 L119.56 70.46 L119.56 70.47 L120.65 70.47 L121.74 70.47 L121.74 70.49 L122.83 70.49 L123.91 70.49 L123.91 70.50 L125.00 70.50 L126.00 70.50 L126.00 70.88 L127.00 70.88 L128.00 70.88 L128.00 71.25 L129.00 71.25 L130.00 71.25 L130.00 71.62 L131.00 71.62 L132.00 71.62 L132.00 72.00 L133.00 72.00 L134.20 72.00 L134.20 72.50 L135.40 72.50 L136.60 72.50 L136.60 73.00 L137.80 73.00 L139.00 73.00 L139.00 73.50 L140.20 73.50 L141.40 73.50 L141.40 74.00 L142.60 74.00 L143.80 74.00 L143.80 74.50 L145.00 74.50 L146.07 74.50 L146.07 74.79 L147.14 74.79 L148.21 74.79 L148.21 75.07 L149.29 75.07 L150.36 75.07 L150.36 75.36 L151.43 75.36 L152.50 75.36 L152.50 75.64 L153.57 75.64 L154.64 75.64 L154.64 75.93 L155.71 75.93 L156.79 75.93 L156.79 76.21 L157.86 76.21 L158.93 76.21 L158.93 76.50 L160.00 76.50 L161.06 76.50 L161.06 76.69 L162.12 76.69 L163.19 76.69 L163.19 76.88 L164.25 76.88 L165.31 76.88 L165.31 77.06 L166.38 77.06 L167.44 77.06 L167.44 77.25 L168.50 77.25 L169.56 77.25 L169.56 77.44 L170.62 77.44 L171.69 77.44 L171.69 77.62 L172.75 77.62 L173.81 77.62 L173.81 77.81 L174.88 77.81 L175.94 77.81 L175.94 78.00 L177.00 78.00 L178.08 78.00 L178.08 78.58 L179.17 78.58 L180.25 78.58 L180.25 79.17 L181.33 79.17 L182.42 79.17 L182.42 79.75 L183.50 79.75 L184.58 79.75 L184.58 80.33 L185.67 80.33 L186.75 80.33 L186.75 80.92 L187.83 80.92 L188.92 80.92 L188.92 81.50 L190.00 81.50 L191.11 81.50 L191.11 81.78 L192.22 81.78 L193.33 81.78 L193.33 82.06 L194.44 82.06 L195.56 82.06 L195.56 82.33 L196.67 82.33 L197.78 82.33 L197.78 82.61 L198.89 82.61 L200.00 82.61 L200.00 82.89 L201.11 82.89 L202.22 82.89 L202.22 83.17 L203.33 83.17 L204.44 83.17 L204.44 83.44 L205.56 83.44 L206.67 83.44 L206.67 83.72 L207.78 83.72 L208.89 83.72 L208.89 84.00 L210.00 84.00 L211.11 84.00 L211.11 84.11 L212.22 84.11 L213.33 84.11 L213.33 84.22 L214.44 84.22 L215.56 84.22 L215.56 84.33 L216.67 84.33 L217.78 84.33 L217.78 84.44 L218.89 84.44 L220.00 84.44 L220.00 84.56 L221.11 84.56 L222.22 84.56 L222.22 84.67 L223.33 84.67 L224.44 84.67 L224.44 84.78 L225.56 84.78 L226.67 84.78 L226.67 84.89 L227.78 84.89 L228.89 84.89 L228.89 85.00 L230.00 85.00 L231.11 85.00 L231.11 85.11 L232.22 85.11 L233.33 85.11 L233.33 85.22 L234.44 85.22 L235.56 85.22 L235.56 85.33 L236.67 85.33 L237.78 85.33 L237.78 85.44 L238.89 85.44 L240.00 85.44 L240.00 85.56 L241.11 85.56 L242.22 85.56 L242.22 85.67 L243.33 85.67 L244.44 85.67 L244.44 85.78 L245.56 85.78 L246.67 85.78 L246.67 85.89 L247.78 85.89 L248.89 85.89 L248.89 86.00 L250.00 86.00 L251.09 86.00 L251.09 86.02 L252.17 86.02 L253.26 86.02 L253.26 86.04 L254.35 86.04 L255.43 86.04 L255.43 86.07 L256.52 86.07 L257.61 86.07 L257.61 86.09 L258.70 86.09 L259.78 86.09 L259.78 86.11 L260.87 86.11 L261.96 86.11 L261.96 86.13 L263.04 86.13 L264.13 86.13 L264.13 86.15 L265.22 86.15 L266.30 86.15 L266.30 86.17 L267.39 86.17 L268.48 86.17 L268.48 86.20 L269.57 86.20 L270.65 86.20 L270.65 86.22 L271.74 86.22 L272.83 86.22 L272.83 86.24 L273.91 86.24 L275.00 86.24 L275.00 86.26 L276.09 86.26 L277.17 86.26 L277.17 86.28 L278.26 86.28 L279.35 86.28 L279.35 86.30 L280.43 86.30 L281.52 86.30 L281.52 86.33 L282.61 86.33 L283.70 86.33 L283.70 86.35 L284.78 86.35 L285.87 86.35 L285.87 86.37 L286.96 86.37 L288.04 86.37 L288.04 86.39 L289.13 86.39 L290.22 86.39 L290.22 86.41 L291.30 86.41 L292.39 86.41 L292.39 86.43 L293.48 86.43 L294.57 86.43 L294.57 86.46 L295.65 86.46 L296.74 86.46 L296.74 86.48 L297.83 86.48 L298.91 86.48 L298.91 86.50 L300.00 86.50 L301.00 86.50 L301.00 85.58 L302.00 85.58 L303.00 85.58 L303.00 84.65 L304.00 84.65 L305.00 84.65 L305.00 83.72 L306.00 83.72 L307.00 83.72 L307.00 82.80 L308.00 82.80 L504.00 82.80 L504.00 102.40 L400.00 102.40 L398.89 102.40 L398.89 102.38 L397.78 102.38 L396.67 102.38 L396.67 102.36 L395.56 102.36 L394.44 102.36 L394.44 102.35 L393.33 102.35 L392.22 102.35 L392.22 102.33 L391.11 102.33 L390.00 102.33 L390.00 102.31 L388.89 102.31 L387.78 102.31 L387.78 102.29 L386.67 102.29 L385.56 102.29 L385.56 102.28 L384.44 102.28 L383.33 102.28 L383.33 102.26 L382.22 102.26 L381.11 102.26 L381.11 102.24 L380.00 102.24 L378.89 102.24 L378.89 102.22 L377.78 102.22 L376.67 102.22 L376.67 102.20 L375.56 102.20 L374.44 102.20 L374.44 102.19 L373.33 102.19 L372.22 102.19 L372.22 102.17 L371.11 102.17 L370.00 102.17 L370.00 102.15 L368.89 102.15 L367.78 102.15 L367.78 102.13 L366.67 102.13 L365.56 102.13 L365.56 102.12 L364.44 102.12 L363.33 102.12 L363.33 102.10 L362.22 102.10 L361.11 102.10 L361.11 102.08 L360.00 102.08 L358.89 102.08 L358.89 102.06 L357.78 102.06 L356.67 102.06 L356.67 102.04 L355.56 102.04 L354.44 102.04 L354.44 102.03 L353.33 102.03 L352.22 102.03 L352.22 102.01 L351.11 102.01 L350.00 102.01 L350.00 101.99 L348.89 101.99 L347.78 101.99 L347.78 101.97 L346.67 101.97 L345.56 101.97 L345.56 101.96 L344.44 101.96 L343.33 101.96 L343.33 101.94 L342.22 101.94 L341.11 101.94 L341.11 101.92 L340.00 101.92 L338.89 101.92 L338.89 101.90 L337.78 101.90 L336.67 101.90 L336.67 101.88 L335.56 101.88 L334.44 101.88 L334.44 101.87 L333.33 101.87 L332.22 101.87 L332.22 101.85 L331.11 101.85 L330.00 101.85 L330.00 101.83 L328.89 101.83 L327.78 101.83 L327.78 101.81 L326.67 101.81 L325.56 101.81 L325.56 101.80 L324.44 101.80 L323.33 101.80 L323.33 101.78 L322.22 101.78 L321.11 101.78 L321.11 101.76 L320.00 101.76 L318.89 101.76 L318.89 101.74 L317.78 101.74 L316.67 101.74 L316.67 101.72 L315.56 101.72 L314.44 101.72 L314.44 101.71 L313.33 101.71 L312.22 101.71 L312.22 101.69 L311.11 101.69 L310.00 101.69 L310.00 101.67 L308.89 101.67 L307.78 101.67 L307.78 101.65 L306.67 101.65 L305.56 101.65 L305.56 101.64 L304.44 101.64 L303.33 101.64 L303.33 101.62 L302.22 101.62 L301.11 101.62 L301.11 101.60 L300.00 101.60 L298.91 101.60 L298.91 101.57 L297.83 101.57 L296.74 101.57 L296.74 101.55 L295.65 101.55 L294.57 101.55 L294.57 101.52 L293.48 101.52 L292.39 101.52 L292.39 101.50 L291.30 101.50 L290.22 101.50 L290.22 101.47 L289.13 101.47 L288.04 101.47 L288.04 101.44 L286.96 101.44 L285.87 101.44 L285.87 101.42 L284.78 101.42 L283.70 101.42 L283.70 101.39 L282.61 101.39 L281.52 101.39 L281.52 101.37 L280.43 101.37 L279.35 101.37 L279.35 101.34 L278.26 101.34 L277.17 101.34 L277.17 101.31 L276.09 101.31 L275.00 101.31 L275.00 101.29 L273.91 101.29 L272.83 101.29 L272.83 101.26 L271.74 101.26 L270.65 101.26 L270.65 101.23 L269.57 101.23 L268.48 101.23 L268.48 101.21 L267.39 101.21 L266.30 101.21 L266.30 101.18 L265.22 101.18 L264.13 101.18 L264.13 101.16 L263.04 101.16 L261.96 101.16 L261.96 101.13 L260.87 101.13 L259.78 101.13 L259.78 101.10 L258.70 101.10 L257.61 101.10 L257.61 101.08 L256.52 101.08 L255.43 101.08 L255.43 101.05 L254.35 101.05 L253.26 101.05 L253.26 101.03 L252.17 101.03 L251.09 101.03 L251.09 101.00 L250.00 101.00 L248.93 101.00 L248.93 100.86 L247.86 100.86 L246.79 100.86 L246.79 100.71 L245.71 100.71 L244.64 100.71 L244.64 100.57 L243.57 100.57 L242.50 100.57 L242.50 100.43 L241.43 100.43 L240.36 100.43 L240.36 100.29 L239.29 100.29 L238.21 100.29 L238.21 100.14 L237.14 100.14 L236.07 100.14 L236.07 100.00 L235.00 100.00 L233.93 100.00 L233.93 99.86 L232.86 99.86 L231.79 99.86 L231.79 99.71 L230.71 99.71 L229.64 99.71 L229.64 99.57 L228.57 99.57 L227.50 99.57 L227.50 99.43 L226.43 99.43 L225.36 99.43 L225.36 99.29 L224.29 99.29 L223.21 99.29 L223.21 99.14 L222.14 99.14 L221.07 99.14 L221.07 99.00 L220.00 99.00 L218.89 99.00 L218.89 98.44 L217.78 98.44 L216.67 98.44 L216.67 97.89 L215.56 97.89 L214.44 97.89 L214.44 97.33 L213.33 97.33 L212.22 97.33 L212.22 96.78 L211.11 96.78 L210.00 96.78 L210.00 96.22 L208.89 96.22 L207.78 96.22 L207.78 95.67 L206.67 95.67 L205.56 95.67 L205.56 95.11 L204.44 95.11 L203.33 95.11 L203.33 94.56 L202.22 94.56 L201.11 94.56 L201.11 94.00 L200.00 94.00 L198.89 94.00 L198.89 93.33 L197.78 93.33 L196.67 93.33 L196.67 92.67 L195.56 92.67 L194.44 92.67 L194.44 92.00 L193.33 92.00 L192.22 92.00 L192.22 91.33 L191.11 91.33 L190.00 91.33 L190.00 90.67 L188.89 90.67 L187.78 90.67 L187.78 90.00 L186.67 90.00 L185.56 90.00 L185.56 89.33 L184.44 89.33 L183.33 89.33 L183.33 88.67 L182.22 88.67 L181.11 88.67 L181.11 88.00 L180.00 88.00 L178.89 88.00 L178.89 87.44 L177.78 87.44 L176.67 87.44 L176.67 86.89 L175.56 86.89 L174.44 86.89 L174.44 86.33 L173.33 86.33 L172.22 86.33 L172.22 85.78 L171.11 85.78 L170.00 85.78 L170.00 85.22 L168.89 85.22 L167.78 85.22 L167.78 84.67 L166.67 84.67 L165.56 84.67 L165.56 84.11 L164.44 84.11 L163.33 84.11 L163.33 83.56 L162.22 83.56 L161.11 83.56 L161.11 83.00 L160.00 83.00 L158.93 83.00 L158.93 82.57 L157.86 82.57 L156.79 82.57 L156.79 82.14 L155.71 82.14 L154.64 82.14 L154.64 81.71 L153.57 81.71 L152.50 81.71 L152.50 81.29 L151.43 81.29 L150.36 81.29 L150.36 80.86 L149.29 80.86 L148.21 80.86 L148.21 80.43 L147.14 80.43 L146.07 80.43 L146.07 80.00 L145.00 80.00 L143.89 80.00 L143.89 79.22 L142.78 79.22 L141.67 79.22 L141.67 78.44 L140.56 78.44 L139.44 78.44 L139.44 77.67 L138.33 77.67 L137.22 77.67 L137.22 76.89 L136.11 76.89 L135.00 76.89 L135.00 76.11 L133.89 76.11 L132.78 76.11 L132.78 75.33 L131.67 75.33 L130.56 75.33 L130.56 74.56 L129.44 74.56 L128.33 74.56 L128.33 73.78 L127.22 73.78 L126.11 73.78 L126.11 73.00 L125.00 73.00 L123.91 73.00 L123.91 72.83 L122.83 72.83 L121.74 72.83 L121.74 72.66 L120.65 72.66 L119.56 72.66 L119.56 72.49 L118.47 72.49 L117.39 72.49 L117.39 72.33 L116.30 72.33 L115.21 72.33 L115.21 72.16 L114.12 72.16 L113.04 72.16 L113.04 71.99 L111.95 71.99 L110.86 71.99 L110.86 71.82 L109.78 71.82 L108.69 71.82 L108.69 71.65 L107.60 71.65 L106.51 71.65 L106.51 71.48 L105.42 71.48 L104.34 71.48 L104.34 71.31 L103.25 71.31 L102.16 71.31 L102.16 71.14 L101.08 71.14 L99.99 71.14 L99.99 70.97 L98.90 70.97 L97.81 70.97 L97.81 70.81 L96.73 70.81 L95.64 70.81 L95.64 70.64 L94.55 70.64 L93.46 70.64 L93.46 70.47 L92.38 70.47 L91.29 70.47 L91.29 70.30 L90.20 70.30Z" fill="#c4c8e8" style="mix-blend-mode:multiply"/>
<path d="M90.20 70.30 L125.00 70.30 L126.09 70.30 L126.09 70.47 L127.19 70.47 L128.28 70.47 L128.28 70.64 L129.38 70.64 L130.47 70.64 L130.47 70.81 L131.56 70.81 L132.66 70.81 L132.66 70.97 L133.75 70.97 L134.84 70.97 L134.84 71.14 L135.94 71.14 L137.03 71.14 L137.03 71.31 L138.12 71.31 L139.22 71.31 L139.22 71.48 L140.31 71.48 L141.41 71.48 L141.41 71.65 L142.50 71.65 L143.59 71.65 L143.59 71.82 L144.69 71.82 L145.78 71.82 L145.78 71.99 L146.88 71.99 L147.97 71.99 L147.97 72.16 L149.06 72.16 L150.16 72.16 L150.16 72.33 L151.25 72.33 L152.34 72.33 L152.34 72.49 L153.44 72.49 L154.53 72.49 L154.53 72.66 L155.62 72.66 L156.72 72.66 L156.72 72.83 L157.81 72.83 L158.91 72.83 L158.91 73.00 L160.00 73.00 L161.07 73.00 L161.07 73.14 L162.14 73.14 L163.21 73.14 L163.21 73.29 L164.29 73.29 L165.36 73.29 L165.36 73.43 L166.43 73.43 L167.50 73.43 L167.50 73.57 L168.57 73.57 L169.64 73.57 L169.64 73.71 L170.71 73.71 L171.79 73.71 L171.79 73.86 L172.86 73.86 L173.93 73.86 L173.93 74.00 L175.00 74.00 L176.12 74.00 L176.12 74.08 L177.25 74.08 L178.38 74.08 L178.38 74.15 L179.50 74.15 L180.62 74.15 L180.62 74.22 L181.75 74.22 L182.88 74.22 L182.88 74.30 L184.00 74.30 L185.12 74.30 L185.12 74.38 L186.25 74.38 L187.38 74.38 L187.38 74.45 L188.50 74.45 L189.62 74.45 L189.62 74.53 L190.75 74.53 L191.88 74.53 L191.88 74.60 L193.00 74.60 L194.12 74.60 L194.12 74.67 L195.25 74.67 L196.38 74.67 L196.38 74.75 L197.50 74.75 L198.62 74.75 L198.62 74.83 L199.75 74.83 L200.88 74.83 L200.88 74.90 L202.00 74.90 L203.12 74.90 L203.12 74.97 L204.25 74.97 L205.38 74.97 L205.38 75.05 L206.50 75.05 L207.62 75.05 L207.62 75.12 L208.75 75.12 L209.88 75.12 L209.88 75.20 L211.00 75.20 L212.12 75.20 L212.12 75.28 L213.25 75.28 L214.38 75.28 L214.38 75.35 L215.50 75.35 L216.62 75.35 L216.62 75.42 L217.75 75.42 L218.88 75.42 L218.88 75.50 L220.00 75.50 L221.11 75.50 L221.11 75.57 L222.22 75.57 L223.33 75.57 L223.33 75.65 L224.44 75.65 L225.56 75.65 L225.56 75.72 L226.67 75.72 L227.78 75.72 L227.78 75.80 L228.89 75.80 L230.00 75.80 L230.00 75.87 L231.11 75.87 L232.22 75.87 L232.22 75.94 L233.33 75.94 L234.44 75.94 L234.44 76.02 L235.56 76.02 L236.67 76.02 L236.67 76.09 L237.78 76.09 L238.89 76.09 L238.89 76.17 L240.00 76.17 L241.11 76.17 L241.11 76.24 L242.22 76.24 L243.33 76.24 L243.33 76.31 L244.44 76.31 L245.56 76.31 L245.56 76.39 L246.67 76.39 L247.78 76.39 L247.78 76.46 L248.89 76.46 L250.00 76.46 L250.00 76.54 L251.11 76.54 L252.22 76.54 L252.22 76.61 L253.33 76.61 L254.44 76.61 L254.44 76.69 L255.56 76.69 L256.67 76.69 L256.67 76.76 L257.78 76.76 L258.89 76.76 L258.89 76.83 L260.00 76.83 L261.11 76.83 L261.11 76.91 L262.22 76.91 L263.33 76.91 L263.33 76.98 L264.44 76.98 L265.56 76.98 L265.56 77.06 L266.67 77.06 L267.78 77.06 L267.78 77.13 L268.89 77.13 L270.00 77.13 L270.00 77.20 L271.11 77.20 L272.22 77.20 L272.22 77.28 L273.33 77.28 L274.44 77.28 L274.44 77.35 L275.56 77.35 L276.67 77.35 L276.67 77.43 L277.78 77.43 L278.89 77.43 L278.89 77.50 L280.00 77.50 L281.08 77.50 L281.08 77.58 L282.15 77.58 L283.23 77.58 L283.23 77.65 L284.31 77.65 L285.38 77.65 L285.38 77.73 L286.46 77.73 L287.54 77.73 L287.54 77.81 L288.62 77.81 L289.69 77.81 L289.69 77.88 L290.77 77.88 L291.85 77.88 L291.85 77.96 L292.92 77.96 L294.00 77.96 L294.00 78.04 L295.08 78.04 L296.15 78.04 L296.15 78.12 L297.23 78.12 L298.31 78.12 L298.31 78.19 L299.38 78.19 L300.46 78.19 L300.46 78.27 L301.54 78.27 L302.62 78.27 L302.62 78.35 L303.69 78.35 L304.77 78.35 L304.77 78.42 L305.85 78.42 L306.92 78.42 L306.92 78.50 L308.00 78.50 L308.15 78.50 L308.15 79.40 L308.30 79.40 L504.00 79.40 L504.00 95.50 L308.30 95.50 L308.15 95.50 L308.15 87.50 L308.00 87.50 L306.90 87.50 L306.90 87.45 L305.80 87.45 L304.70 87.45 L304.70 87.40 L303.60 87.40 L302.50 87.40 L302.50 87.35 L301.40 87.35 L300.30 87.35 L300.30 87.30 L299.20 87.30 L298.10 87.30 L298.10 87.25 L297.00 87.25 L295.90 87.25 L295.90 87.20 L294.80 87.20 L293.70 87.20 L293.70 87.15 L292.60 87.15 L291.50 87.15 L291.50 87.10 L290.40 87.10 L289.30 87.10 L289.30 87.05 L288.20 87.05 L287.10 87.05 L287.10 87.00 L286.00 87.00 L284.90 87.00 L284.90 86.95 L283.80 86.95 L282.70 86.95 L282.70 86.90 L281.60 86.90 L280.50 86.90 L280.50 86.85 L279.40 86.85 L278.30 86.85 L278.30 86.80 L277.20 86.80 L276.10 86.80 L276.10 86.75 L275.00 86.75 L273.90 86.75 L273.90 86.70 L272.80 86.70 L271.70 86.70 L271.70 86.65 L270.60 86.65 L269.50 86.65 L269.50 86.60 L268.40 86.60 L267.30 86.60 L267.30 86.55 L266.20 86.55 L265.10 86.55 L265.10 86.50 L264.00 86.50 L262.90 86.50 L262.90 86.47 L261.80 86.47 L260.70 86.47 L260.70 86.45 L259.60 86.45 L258.50 86.45 L258.50 86.42 L257.40 86.42 L256.30 86.42 L256.30 86.40 L255.20 86.40 L254.10 86.40 L254.10 86.38 L253.00 86.38 L251.90 86.38 L251.90 86.35 L250.80 86.35 L249.70 86.35 L249.70 86.33 L248.60 86.33 L247.50 86.33 L247.50 86.30 L246.40 86.30 L245.30 86.30 L245.30 86.28 L244.20 86.28 L243.10 86.28 L243.10 86.25 L242.00 86.25 L240.90 86.25 L240.90 86.22 L239.80 86.22 L238.70 86.22 L238.70 86.20 L237.60 86.20 L236.50 86.20 L236.50 86.17 L235.40 86.17 L234.30 86.17 L234.30 86.15 L233.20 86.15 L232.10 86.15 L232.10 86.12 L231.00 86.12 L229.90 86.12 L229.90 86.10 L228.80 86.10 L227.70 86.10 L227.70 86.08 L226.60 86.08 L225.50 86.08 L225.50 86.05 L224.40 86.05 L223.30 86.05 L223.30 86.03 L222.20 86.03 L221.10 86.03 L221.10 86.00 L220.00 86.00 L218.50 86.00 L218.50 81.50 L217.00 81.50 L215.89 81.50 L215.89 81.45 L214.79 81.45 L213.68 81.45 L213.68 81.39 L212.58 81.39 L211.47 81.39 L211.47 81.34 L210.37 81.34 L209.26 81.34 L209.26 81.29 L208.16 81.29 L207.05 81.29 L207.05 81.24 L205.95 81.24 L204.84 81.24 L204.84 81.18 L203.74 81.18 L202.63 81.18 L202.63 81.13 L201.53 81.13 L200.42 81.13 L200.42 81.08 L199.32 81.08 L198.21 81.08 L198.21 81.03 L197.11 81.03 L196.00 81.03 L196.00 80.97 L194.89 80.97 L193.79 80.97 L193.79 80.92 L192.68 80.92 L191.58 80.92 L191.58 80.87 L190.47 80.87 L189.37 80.87 L189.37 80.82 L188.26 80.82 L187.16 80.82 L187.16 80.76 L186.05 80.76 L184.95 80.76 L184.95 80.71 L183.84 80.71 L182.74 80.71 L182.74 80.66 L181.63 80.66 L180.53 80.66 L180.53 80.61 L179.42 80.61 L178.32 80.61 L178.32 80.55 L177.21 80.55 L176.11 80.55 L176.11 80.50 L175.00 80.50 L173.93 80.50 L173.93 80.21 L172.86 80.21 L171.79 80.21 L171.79 79.93 L170.71 79.93 L169.64 79.93 L169.64 79.64 L168.57 79.64 L167.50 79.64 L167.50 79.36 L166.43 79.36 L165.36 79.36 L165.36 79.07 L164.29 79.07 L163.21 79.07 L163.21 78.79 L162.14 78.79 L161.07 78.79 L161.07 78.50 L160.00 78.50 L158.93 78.50 L158.93 78.29 L157.86 78.29 L156.79 78.29 L156.79 78.07 L155.71 78.07 L154.64 78.07 L154.64 77.86 L153.57 77.86 L152.50 77.86 L152.50 77.64 L151.43 77.64 L150.36 77.64 L150.36 77.43 L149.29 77.43 L148.21 77.43 L148.21 77.21 L147.14 77.21 L146.07 77.21 L146.07 77.00 L145.00 77.00 L143.80 77.00 L143.80 76.60 L142.60 76.60 L141.40 76.60 L141.40 76.20 L140.20 76.20 L139.00 76.20 L139.00 75.80 L137.80 75.80 L136.60 75.80 L136.60 75.40 L135.40 75.40 L134.20 75.40 L134.20 75.00 L133.00 75.00 L132.00 75.00 L132.00 74.38 L131.00 74.38 L130.00 74.38 L130.00 73.75 L129.00 73.75 L128.00 73.75 L128.00 73.12 L127.00 73.12 L126.00 73.12 L126.00 72.50 L125.00 72.50 L123.91 72.50 L123.91 72.36 L122.83 72.36 L121.74 72.36 L121.74 72.22 L120.65 72.22 L119.56 72.22 L119.56 72.09 L118.47 72.09 L117.39 72.09 L117.39 71.95 L116.30 71.95 L115.21 71.95 L115.21 71.81 L114.12 71.81 L113.04 71.81 L113.04 71.67 L111.95 71.67 L110.86 71.67 L110.86 71.54 L109.78 71.54 L108.69 71.54 L108.69 71.40 L107.60 71.40 L106.51 71.40 L106.51 71.26 L105.42 71.26 L104.34 71.26 L104.34 71.12 L103.25 71.12 L102.16 71.12 L102.16 70.99 L101.08 70.99 L99.99 70.99 L99.99 70.85 L98.90 70.85 L97.81 70.85 L97.81 70.71 L96.73 70.71 L95.64 70.71 L95.64 70.58 L94.55 70.58 L93.46 70.58 L93.46 70.44 L92.38 70.44 L91.29 70.44 L91.29 70.30 L90.20 70.30Z" fill="#f3c0c0" style="mix-blend-mode:multiply"/>
<path d="M96.30 70.40 L97.50 72.90 L99.20 74.30 L107.30 75.80 L116.50 77.00 L125.40 78.90 L130.00 80.50 L133.00 82.80 L137.70 87.40 L143.80 92.00 L151.50 96.60 L159.20 101.20 L167.00 107.40 L174.60 112.00 L182.30 116.60 L190.00 122.00 L194.00 125.50 L197.00 129.20 L200.00 133.00M219.20 133.00 L221.50 137.70 L235.00 138.20 L238.50 140.30 L244.60 141.50 L252.30 143.00 L257.00 145.00" fill="none" stroke="#389a38" stroke-width="2.4" stroke-opacity="0.55" stroke-linecap="round" stroke-linejoin="round"/><path d="M90.20 70.40 L96.30 70.40 L96.90 70.40 L96.90 72.90 L97.50 72.90 L98.35 72.90 L98.35 74.30 L99.20 74.30 L100.21 74.30 L100.21 74.67 L101.22 74.67 L102.24 74.67 L102.24 75.05 L103.25 75.05 L104.26 75.05 L104.26 75.42 L105.28 75.42 L106.29 75.42 L106.29 75.80 L107.30 75.80 L108.45 75.80 L108.45 76.10 L109.60 76.10 L110.75 76.10 L110.75 76.40 L111.90 76.40 L113.05 76.40 L113.05 76.70 L114.20 76.70 L115.35 76.70 L115.35 77.00 L116.50 77.00 L117.61 77.00 L117.61 77.47 L118.72 77.47 L119.84 77.47 L119.84 77.95 L120.95 77.95 L122.06 77.95 L122.06 78.43 L123.18 78.43 L124.29 78.43 L124.29 78.90 L125.40 78.90 L126.55 78.90 L126.55 79.70 L127.70 79.70 L128.85 79.70 L128.85 80.50 L130.00 80.50 L131.50 80.50 L131.50 82.80 L133.00 82.80 L134.18 82.80 L134.18 85.10 L135.35 85.10 L136.52 85.10 L136.52 87.40 L137.70 87.40 L138.72 87.40 L138.72 88.93 L139.73 88.93 L140.75 88.93 L140.75 90.47 L141.77 90.47 L142.78 90.47 L142.78 92.00 L143.80 92.00 L145.08 92.00 L145.08 93.53 L146.37 93.53 L147.65 93.53 L147.65 95.07 L148.93 95.07 L150.22 95.07 L150.22 96.60 L151.50 96.60 L152.78 96.60 L152.78 98.13 L154.07 98.13 L155.35 98.13 L155.35 99.67 L156.63 99.67 L157.92 99.67 L157.92 101.20 L159.20 101.20 L160.17 101.20 L160.17 102.75 L161.15 102.75 L162.12 102.75 L162.12 104.30 L163.10 104.30 L164.07 104.30 L164.07 105.85 L165.05 105.85 L166.03 105.85 L166.03 107.40 L167.00 107.40 L168.27 107.40 L168.27 108.93 L169.53 108.93 L170.80 108.93 L170.80 110.47 L172.07 110.47 L173.33 110.47 L173.33 112.00 L174.60 112.00 L175.56 112.00 L175.56 113.15 L176.53 113.15 L177.49 113.15 L177.49 114.30 L178.45 114.30 L179.41 114.30 L179.41 115.45 L180.38 115.45 L181.34 115.45 L181.34 116.60 L182.30 116.60 L183.58 116.60 L183.58 118.40 L184.87 118.40 L186.15 118.40 L186.15 120.20 L187.43 120.20 L188.72 120.20 L188.72 122.00 L190.00 122.00 L191.00 122.00 L191.00 123.75 L192.00 123.75 L193.00 123.75 L193.00 125.50 L194.00 125.50 L195.50 125.50 L195.50 129.20 L197.00 129.20 L198.50 129.20 L198.50 133.00 L200.00 133.00 L219.20 133.00 L220.35 133.00 L220.35 137.70 L221.50 137.70 L222.62 137.70 L222.62 137.78 L223.75 137.78 L224.88 137.78 L224.88 137.87 L226.00 137.87 L227.12 137.87 L227.12 137.95 L228.25 137.95 L229.38 137.95 L229.38 138.03 L230.50 138.03 L231.62 138.03 L231.62 138.12 L232.75 138.12 L233.88 138.12 L233.88 138.20 L235.00 138.20 L235.88 138.20 L235.88 139.25 L236.75 139.25 L237.62 139.25 L237.62 140.30 L238.50 140.30 L239.52 140.30 L239.52 140.70 L240.53 140.70 L241.55 140.70 L241.55 141.10 L242.57 141.10 L243.58 141.10 L243.58 141.50 L244.60 141.50 L245.56 141.50 L245.56 141.88 L246.53 141.88 L247.49 141.88 L247.49 142.25 L248.45 142.25 L249.41 142.25 L249.41 142.62 L250.38 142.62 L251.34 142.62 L251.34 143.00 L252.30 143.00 L253.48 143.00 L253.48 144.00 L254.65 144.00 L255.82 144.00 L255.82 145.00 L257.00 145.00 L311.00 145.00 L311.00 148.40 L337.00 148.40 L337.00 152.30 L354.70 152.30 L354.70 154.30 L360.00 154.30 L360.00 156.60 L365.00 156.60 L365.00 159.20 L371.00 159.20 L371.00 161.50 L379.20 161.50 L379.20 164.10 L506.70 164.10" fill="none" stroke="#389a38" stroke-width="1.2" stroke-linejoin="miter"/>
<path d="M131.00 77.50V83.50M128.80 80.50H133.20M134.93 82.10V88.10M132.73 85.10H137.13M138.87 85.93V91.93M136.67 88.93H141.07M142.80 89.00V95.00M140.60 92.00H145.00M146.73 90.53V96.53M144.53 93.53H148.93M150.67 93.60V99.60M148.47 96.60H152.87M154.60 95.13V101.13M152.40 98.13H156.80M158.53 98.20V104.20M156.33 101.20H160.73M162.47 101.30V107.30M160.27 104.30H164.67M166.40 104.40V110.40M164.20 107.40H168.60M170.33 105.93V111.93M168.13 108.93H172.53M174.27 109.00V115.00M172.07 112.00H176.47M178.20 111.30V117.30M176.00 114.30H180.40M182.13 113.60V119.60M179.93 116.60H184.33M186.07 115.40V121.40M183.87 118.40H188.27M190.00 119.00V125.00M187.80 122.00H192.20M191.50 120.75V126.75M189.30 123.75H193.70M200.80 130.00V136.00M198.60 133.00H203.00M203.37 130.00V136.00M201.17 133.00H205.57M205.93 130.00V136.00M203.73 133.00H208.13M208.50 130.00V136.00M206.30 133.00H210.70M227.00 134.87V140.87M224.80 137.87H229.20M234.60 135.20V141.20M232.40 138.20H236.80M236.00 136.25V142.25M233.80 139.25H238.20M242.30 138.10V144.10M240.10 141.10H244.50M245.73 138.88V144.88M243.53 141.88H247.93M249.15 139.25V145.25M246.95 142.25H251.35M252.57 140.00V146.00M250.38 143.00H254.77M256.00 142.00V148.00M253.80 145.00H258.20M265.40 142.00V148.00M263.20 145.00H267.60M274.60 142.00V148.00M272.40 145.00H276.80M280.80 142.00V148.00M278.60 145.00H283.00M284.18 142.00V148.00M281.98 145.00H286.38M287.56 142.00V148.00M285.36 145.00H289.76M290.94 142.00V148.00M288.74 145.00H293.14M294.32 142.00V148.00M292.12 145.00H296.52M297.70 142.00V148.00M295.50 145.00H299.90M305.40 142.00V148.00M303.20 145.00H307.60M325.40 145.40V151.40M323.20 148.40H327.60M339.20 149.30V155.30M337.00 152.30H341.40M354.60 149.30V155.30M352.40 152.30H356.80M360.80 153.60V159.60M358.60 156.60H363.00M364.87 153.60V159.60M362.67 156.60H367.07M368.93 156.20V162.20M366.73 159.20H371.13M373.00 158.50V164.50M370.80 161.50H375.20M382.30 161.10V167.10M380.10 164.10H384.50M385.68 161.10V167.10M383.48 164.10H387.88M389.06 161.10V167.10M386.86 164.10H391.26M392.44 161.10V167.10M390.24 164.10H394.64M395.82 161.10V167.10M393.62 164.10H398.02M399.20 161.10V167.10M397.00 164.10H401.40M411.50 161.10V167.10M409.30 164.10H413.70M428.50 161.10V167.10M426.30 164.10H430.70M460.80 161.10V167.10M458.60 164.10H463.00M474.60 161.10V167.10M472.40 164.10H476.80M476.15 161.10V167.10M473.95 164.10H478.35M477.70 161.10V167.10M475.50 164.10H479.90M485.40 161.10V167.10M483.20 164.10H487.60M488.03 161.10V167.10M485.83 164.10H490.23M490.66 161.10V167.10M488.46 164.10H492.86M493.29 161.10V167.10M491.09 164.10H495.49M495.91 161.10V167.10M493.71 164.10H498.11M498.54 161.10V167.10M496.34 164.10H500.74M501.17 161.10V167.10M498.97 164.10H503.37M503.80 161.10V167.10M501.60 164.10H506.00" stroke="#389a38" stroke-width="1.0" fill="none"/>
<path d="M100.00 71.50 L115.00 73.00 L121.50 74.00 L125.40 75.80 L133.00 78.60 L140.80 83.60 L148.50 86.60 L156.00 87.40 L171.50 89.00 L178.80 90.00 L187.00 92.00 L198.00 93.50 L207.70 96.00 L217.30 98.00 L227.00 99.90 L236.50 100.80 L246.00 102.80 L250.00 103.30" fill="none" stroke="#e99c38" stroke-width="2.4" stroke-opacity="0.55" stroke-linecap="round" stroke-linejoin="round"/><path d="M90.20 70.40 L100.00 70.40 L100.00 71.50 L101.07 71.50 L101.07 71.71 L102.14 71.71 L103.21 71.71 L103.21 71.93 L104.29 71.93 L105.36 71.93 L105.36 72.14 L106.43 72.14 L107.50 72.14 L107.50 72.36 L108.57 72.36 L109.64 72.36 L109.64 72.57 L110.71 72.57 L111.79 72.57 L111.79 72.79 L112.86 72.79 L113.93 72.79 L113.93 73.00 L115.00 73.00 L116.08 73.00 L116.08 73.33 L117.17 73.33 L118.25 73.33 L118.25 73.67 L119.33 73.67 L120.42 73.67 L120.42 74.00 L121.50 74.00 L122.47 74.00 L122.47 74.90 L123.45 74.90 L124.43 74.90 L124.43 75.80 L125.40 75.80 L126.67 75.80 L126.67 76.73 L127.93 76.73 L129.20 76.73 L129.20 77.67 L130.47 77.67 L131.73 77.67 L131.73 78.60 L133.00 78.60 L133.97 78.60 L133.97 79.85 L134.95 79.85 L135.93 79.85 L135.93 81.10 L136.90 81.10 L137.88 81.10 L137.88 82.35 L138.85 82.35 L139.83 82.35 L139.83 83.60 L140.80 83.60 L142.08 83.60 L142.08 84.60 L143.37 84.60 L144.65 84.60 L144.65 85.60 L145.93 85.60 L147.22 85.60 L147.22 86.60 L148.50 86.60 L149.75 86.60 L149.75 86.87 L151.00 86.87 L152.25 86.87 L152.25 87.13 L153.50 87.13 L154.75 87.13 L154.75 87.40 L156.00 87.40 L157.11 87.40 L157.11 87.63 L158.21 87.63 L159.32 87.63 L159.32 87.86 L160.43 87.86 L161.54 87.86 L161.54 88.09 L162.64 88.09 L163.75 88.09 L163.75 88.31 L164.86 88.31 L165.96 88.31 L165.96 88.54 L167.07 88.54 L168.18 88.54 L168.18 88.77 L169.29 88.77 L170.39 88.77 L170.39 89.00 L171.50 89.00 L172.72 89.00 L172.72 89.33 L173.93 89.33 L175.15 89.33 L175.15 89.67 L176.37 89.67 L177.58 89.67 L177.58 90.00 L178.80 90.00 L179.83 90.00 L179.83 90.50 L180.85 90.50 L181.88 90.50 L181.88 91.00 L182.90 91.00 L183.93 91.00 L183.93 91.50 L184.95 91.50 L185.97 91.50 L185.97 92.00 L187.00 92.00 L188.10 92.00 L188.10 92.30 L189.20 92.30 L190.30 92.30 L190.30 92.60 L191.40 92.60 L192.50 92.60 L192.50 92.90 L193.60 92.90 L194.70 92.90 L194.70 93.20 L195.80 93.20 L196.90 93.20 L196.90 93.50 L198.00 93.50 L199.21 93.50 L199.21 94.12 L200.43 94.12 L201.64 94.12 L201.64 94.75 L202.85 94.75 L204.06 94.75 L204.06 95.38 L205.27 95.38 L206.49 95.38 L206.49 96.00 L207.70 96.00 L208.90 96.00 L208.90 96.50 L210.10 96.50 L211.30 96.50 L211.30 97.00 L212.50 97.00 L213.70 97.00 L213.70 97.50 L214.90 97.50 L216.10 97.50 L216.10 98.00 L217.30 98.00 L218.51 98.00 L218.51 98.47 L219.73 98.47 L220.94 98.47 L220.94 98.95 L222.15 98.95 L223.36 98.95 L223.36 99.43 L224.57 99.43 L225.79 99.43 L225.79 99.90 L227.00 99.90 L228.19 99.90 L228.19 100.12 L229.38 100.12 L230.56 100.12 L230.56 100.35 L231.75 100.35 L232.94 100.35 L232.94 100.58 L234.12 100.58 L235.31 100.58 L235.31 100.80 L236.50 100.80 L237.69 100.80 L237.69 101.30 L238.88 101.30 L240.06 101.30 L240.06 101.80 L241.25 101.80 L242.44 101.80 L242.44 102.30 L243.62 102.30 L244.81 102.30 L244.81 102.80 L246.00 102.80 L247.00 102.80 L247.00 103.05 L248.00 103.05 L249.00 103.05 L249.00 103.30 L250.00 103.30 L343.00 103.30 L343.00 106.40 L351.00 106.40 L351.00 108.50 L358.80 108.50 L358.80 112.00 L379.00 112.00 L379.00 114.80 L396.00 114.80 L396.00 115.40 L408.50 115.40 L408.50 117.70 L411.00 117.70 L411.00 119.40 L506.50 119.40" fill="none" stroke="#e99c38" stroke-width="1.2" stroke-linejoin="miter"/>
<path d="M137.50 78.10V84.10M135.30 81.10H139.70M140.96 80.60V86.60M138.76 83.60H143.16M144.42 81.60V87.60M142.22 84.60H146.62M147.88 83.60V89.60M145.68 86.60H150.08M151.35 83.87V89.87M149.15 86.87H153.55M154.81 84.40V90.40M152.61 87.40H157.01M158.27 84.63V90.63M156.07 87.63H160.47M161.73 85.09V91.09M159.53 88.09H163.93M165.19 85.31V91.31M162.99 88.31H167.39M168.65 85.77V91.77M166.45 88.77H170.85M172.12 86.00V92.00M169.92 89.00H174.32M175.58 86.67V92.67M173.38 89.67H177.78M179.04 87.00V93.00M176.84 90.00H181.24M182.50 88.00V94.00M180.30 91.00H184.70M245.00 99.80V105.80M242.80 102.80H247.20M250.00 100.30V106.30M247.80 103.30H252.20M255.00 100.30V106.30M252.80 103.30H257.20M260.00 100.30V106.30M257.80 103.30H262.20M265.00 100.30V106.30M262.80 103.30H267.20M270.00 100.30V106.30M267.80 103.30H272.20M275.00 100.30V106.30M272.80 103.30H277.20M280.00 100.30V106.30M277.80 103.30H282.20M285.00 100.30V106.30M282.80 103.30H287.20M290.00 100.30V106.30M287.80 103.30H292.20M310.00 100.30V106.30M307.80 103.30H312.20M356.00 105.50V111.50M353.80 108.50H358.20M360.17 109.00V115.00M357.97 112.00H362.37M364.33 109.00V115.00M362.13 112.00H366.53M368.50 109.00V115.00M366.30 112.00H370.70M377.70 109.00V115.00M375.50 112.00H379.90M380.16 111.80V117.80M377.96 114.80H382.36M382.62 111.80V117.80M380.42 114.80H384.82M385.08 111.80V117.80M382.88 114.80H387.28M387.54 111.80V117.80M385.34 114.80H389.74M390.00 111.80V117.80M387.80 114.80H392.20M396.00 112.40V118.40M393.80 115.40H398.20M401.00 112.40V118.40M398.80 115.40H403.20M407.00 112.40V118.40M404.80 115.40H409.20M436.00 116.40V122.40M433.80 119.40H438.20M440.65 116.40V122.40M438.45 119.40H442.85M445.30 116.40V122.40M443.10 119.40H447.50M449.95 116.40V122.40M447.75 119.40H452.15M454.60 116.40V122.40M452.40 119.40H456.80M482.00 116.40V122.40M479.80 119.40H484.20M485.11 116.40V122.40M482.91 119.40H487.31M488.23 116.40V122.40M486.03 119.40H490.43M491.34 116.40V122.40M489.14 119.40H493.54M494.46 116.40V122.40M492.26 119.40H496.66M497.57 116.40V122.40M495.37 119.40H499.77M500.69 116.40V122.40M498.49 119.40H502.89M503.80 116.40V122.40M501.60 119.40H506.00" stroke="#e99c38" stroke-width="1.0" fill="none"/>
<path d="M125.00 71.50 L133.00 74.40 L144.60 77.30 L156.00 79.00 L170.00 79.50 L178.80 80.70 L182.70 83.50 L188.50 85.50 L194.20 87.40 L202.00 89.30 L207.70 90.30 L300.00 90.40" fill="none" stroke="#25406c" stroke-width="2.4" stroke-opacity="0.55" stroke-linecap="round" stroke-linejoin="round"/><path d="M90.20 70.40 L125.00 70.40 L125.00 71.50 L126.00 71.50 L126.00 72.22 L127.00 72.22 L128.00 72.22 L128.00 72.95 L129.00 72.95 L130.00 72.95 L130.00 73.68 L131.00 73.68 L132.00 73.68 L132.00 74.40 L133.00 74.40 L134.16 74.40 L134.16 74.98 L135.32 74.98 L136.48 74.98 L136.48 75.56 L137.64 75.56 L138.80 75.56 L138.80 76.14 L139.96 76.14 L141.12 76.14 L141.12 76.72 L142.28 76.72 L143.44 76.72 L143.44 77.30 L144.60 77.30 L145.74 77.30 L145.74 77.64 L146.88 77.64 L148.02 77.64 L148.02 77.98 L149.16 77.98 L150.30 77.98 L150.30 78.32 L151.44 78.32 L152.58 78.32 L152.58 78.66 L153.72 78.66 L154.86 78.66 L154.86 79.00 L156.00 79.00 L157.17 79.00 L157.17 79.08 L158.33 79.08 L159.50 79.08 L159.50 79.17 L160.67 79.17 L161.83 79.17 L161.83 79.25 L163.00 79.25 L164.17 79.25 L164.17 79.33 L165.33 79.33 L166.50 79.33 L166.50 79.42 L167.67 79.42 L168.83 79.42 L168.83 79.50 L170.00 79.50 L171.10 79.50 L171.10 79.80 L172.20 79.80 L173.30 79.80 L173.30 80.10 L174.40 80.10 L175.50 80.10 L175.50 80.40 L176.60 80.40 L177.70 80.40 L177.70 80.70 L178.80 80.70 L179.78 80.70 L179.78 82.10 L180.75 82.10 L181.72 82.10 L181.72 83.50 L182.70 83.50 L183.67 83.50 L183.67 84.17 L184.63 84.17 L185.60 84.17 L185.60 84.83 L186.57 84.83 L187.53 84.83 L187.53 85.50 L188.50 85.50 L189.45 85.50 L189.45 86.13 L190.40 86.13 L191.35 86.13 L191.35 86.77 L192.30 86.77 L193.25 86.77 L193.25 87.40 L194.20 87.40 L195.17 87.40 L195.17 87.88 L196.15 87.88 L197.12 87.88 L197.12 88.35 L198.10 88.35 L199.07 88.35 L199.07 88.83 L200.05 88.83 L201.03 88.83 L201.03 89.30 L202.00 89.30 L202.95 89.30 L202.95 89.63 L203.90 89.63 L204.85 89.63 L204.85 89.97 L205.80 89.97 L206.75 89.97 L206.75 90.30 L207.70 90.30 L208.80 90.30 L208.80 90.30 L209.90 90.30 L211.00 90.30 L211.00 90.30 L212.10 90.30 L213.19 90.30 L213.19 90.31 L214.29 90.31 L215.39 90.31 L215.39 90.31 L216.49 90.31 L217.59 90.31 L217.59 90.31 L218.69 90.31 L219.79 90.31 L219.79 90.31 L220.89 90.31 L221.98 90.31 L221.98 90.32 L223.08 90.32 L224.18 90.32 L224.18 90.32 L225.28 90.32 L226.38 90.32 L226.38 90.32 L227.48 90.32 L228.58 90.32 L228.58 90.32 L229.68 90.32 L230.77 90.32 L230.77 90.33 L231.87 90.33 L232.97 90.33 L232.97 90.33 L234.07 90.33 L235.17 90.33 L235.17 90.33 L236.27 90.33 L237.37 90.33 L237.37 90.33 L238.47 90.33 L239.57 90.33 L239.57 90.34 L240.66 90.34 L241.76 90.34 L241.76 90.34 L242.86 90.34 L243.96 90.34 L243.96 90.34 L245.06 90.34 L246.16 90.34 L246.16 90.34 L247.26 90.34 L248.36 90.34 L248.36 90.35 L249.45 90.35 L250.55 90.35 L250.55 90.35 L251.65 90.35 L252.75 90.35 L252.75 90.35 L253.85 90.35 L254.95 90.35 L254.95 90.35 L256.05 90.35 L257.15 90.35 L257.15 90.35 L258.25 90.35 L259.34 90.35 L259.34 90.36 L260.44 90.36 L261.54 90.36 L261.54 90.36 L262.64 90.36 L263.74 90.36 L263.74 90.36 L264.84 90.36 L265.94 90.36 L265.94 90.36 L267.04 90.36 L268.13 90.36 L268.13 90.37 L269.23 90.37 L270.33 90.37 L270.33 90.37 L271.43 90.37 L272.53 90.37 L272.53 90.37 L273.63 90.37 L274.73 90.37 L274.73 90.37 L275.83 90.37 L276.93 90.37 L276.93 90.38 L278.02 90.38 L279.12 90.38 L279.12 90.38 L280.22 90.38 L281.32 90.38 L281.32 90.38 L282.42 90.38 L283.52 90.38 L283.52 90.38 L284.62 90.38 L285.72 90.38 L285.72 90.39 L286.81 90.39 L287.91 90.39 L287.91 90.39 L289.01 90.39 L290.11 90.39 L290.11 90.39 L291.21 90.39 L292.31 90.39 L292.31 90.39 L293.41 90.39 L294.51 90.39 L294.51 90.40 L295.60 90.40 L296.70 90.40 L296.70 90.40 L297.80 90.40 L298.90 90.40 L298.90 90.40 L300.00 90.40 L300.00 90.60 L400.00 90.60 L400.00 90.90 L506.00 90.90" fill="none" stroke="#25406c" stroke-width="1.2" stroke-linejoin="miter"/>
<path d="M137.50 72.56V78.56M135.30 75.56H139.70M141.67 73.72V79.72M139.47 76.72H143.87M145.83 74.64V80.64M143.63 77.64H148.03M150.00 74.98V80.98M147.80 77.98H152.20M154.17 75.66V81.66M151.97 78.66H156.37M158.33 76.08V82.08M156.13 79.08H160.53M162.50 76.25V82.25M160.30 79.25H164.70M166.67 76.42V82.42M164.47 79.42H168.87M170.83 76.50V82.50M168.63 79.50H173.03M175.00 77.10V83.10M172.80 80.10H177.20M180.00 79.10V85.10M177.80 82.10H182.20M192.50 83.77V89.77M190.30 86.77H194.70M195.00 84.40V90.40M192.80 87.40H197.20M201.00 85.83V91.83M198.80 88.83H203.20M212.50 87.30V93.30M210.30 90.30H214.70M216.00 87.31V93.31M213.80 90.31H218.20M220.00 87.31V93.31M217.80 90.31H222.20M243.75 87.34V93.34M241.55 90.34H245.95M263.75 87.36V93.36M261.55 90.36H265.95M268.00 87.36V93.36M265.80 90.36H270.20M275.00 87.37V93.37M272.80 90.37H277.20M280.00 87.38V93.38M277.80 90.38H282.20M286.00 87.39V93.39M283.80 90.39H288.20M298.75 87.40V93.40M296.55 90.40H300.95M326.00 87.60V93.60M323.80 90.60H328.20M336.00 87.60V93.60M333.80 90.60H338.20M341.00 87.60V93.60M338.80 90.60H343.20M363.80 87.60V93.60M361.60 90.60H366.00M367.76 87.60V93.60M365.56 90.60H369.96M371.71 87.60V93.60M369.51 90.60H373.91M375.67 87.60V93.60M373.47 90.60H377.87M379.63 87.60V93.60M377.43 90.60H381.83M383.59 87.60V93.60M381.39 90.60H385.79M387.54 87.60V93.60M385.34 90.60H389.74M391.50 87.60V93.60M389.30 90.60H393.70M403.80 87.90V93.90M401.60 90.90H406.00M407.60 87.90V93.90M405.40 90.90H409.80M411.50 87.90V93.90M409.30 90.90H413.70M451.50 87.90V93.90M449.30 90.90H453.70M454.60 87.90V93.90M452.40 90.90H456.80M457.70 87.90V93.90M455.50 90.90H459.90M460.80 87.90V93.90M458.60 90.90H463.00M473.00 87.90V93.90M470.80 90.90H475.20M476.42 87.90V93.90M474.22 90.90H478.62M479.84 87.90V93.90M477.64 90.90H482.04M483.27 87.90V93.90M481.07 90.90H485.47M486.69 87.90V93.90M484.49 90.90H488.89M490.11 87.90V93.90M487.91 90.90H492.31M493.53 87.90V93.90M491.33 90.90H495.73M496.96 87.90V93.90M494.76 90.90H499.16M500.38 87.90V93.90M498.18 90.90H502.58M503.80 87.90V93.90M501.60 90.90H506.00" stroke="#25406c" stroke-width="1.0" fill="none"/>
<path d="M150.00 74.40 L160.00 76.20 L175.00 77.20 L215.40 77.40 L216.50 78.50 L219.00 79.80 L221.60 81.80 L264.40 82.10" fill="none" stroke="#bd2550" stroke-width="2.4" stroke-opacity="0.55" stroke-linecap="round" stroke-linejoin="round"/><path d="M90.20 70.40 L125.00 70.40 L125.00 71.50 L133.00 71.50 L133.00 73.20 L144.60 73.20 L144.60 74.40 L150.00 74.40 L151.00 74.40 L151.00 74.76 L152.00 74.76 L153.00 74.76 L153.00 75.12 L154.00 75.12 L155.00 75.12 L155.00 75.48 L156.00 75.48 L157.00 75.48 L157.00 75.84 L158.00 75.84 L159.00 75.84 L159.00 76.20 L160.00 76.20 L161.07 76.20 L161.07 76.34 L162.14 76.34 L163.21 76.34 L163.21 76.49 L164.29 76.49 L165.36 76.49 L165.36 76.63 L166.43 76.63 L167.50 76.63 L167.50 76.77 L168.57 76.77 L169.64 76.77 L169.64 76.91 L170.71 76.91 L171.79 76.91 L171.79 77.06 L172.86 77.06 L173.93 77.06 L173.93 77.20 L175.00 77.20 L176.12 77.20 L176.12 77.21 L177.24 77.21 L178.37 77.21 L178.37 77.22 L179.49 77.22 L180.61 77.22 L180.61 77.23 L181.73 77.23 L182.86 77.23 L182.86 77.24 L183.98 77.24 L185.10 77.24 L185.10 77.26 L186.22 77.26 L187.34 77.26 L187.34 77.27 L188.47 77.27 L189.59 77.27 L189.59 77.28 L190.71 77.28 L191.83 77.28 L191.83 77.29 L192.96 77.29 L194.08 77.29 L194.08 77.30 L195.20 77.30 L196.32 77.30 L196.32 77.31 L197.44 77.31 L198.57 77.31 L198.57 77.32 L199.69 77.32 L200.81 77.32 L200.81 77.33 L201.93 77.33 L203.06 77.33 L203.06 77.34 L204.18 77.34 L205.30 77.34 L205.30 77.36 L206.42 77.36 L207.54 77.36 L207.54 77.37 L208.67 77.37 L209.79 77.37 L209.79 77.38 L210.91 77.38 L212.03 77.38 L212.03 77.39 L213.16 77.39 L214.28 77.39 L214.28 77.40 L215.40 77.40 L215.95 77.40 L215.95 78.50 L216.50 78.50 L217.75 78.50 L217.75 79.80 L219.00 79.80 L220.30 79.80 L220.30 81.80 L221.60 81.80 L222.73 81.80 L222.73 81.82 L223.85 81.82 L224.98 81.82 L224.98 81.83 L226.11 81.83 L227.23 81.83 L227.23 81.85 L228.36 81.85 L229.48 81.85 L229.48 81.86 L230.61 81.86 L231.74 81.86 L231.74 81.88 L232.86 81.88 L233.99 81.88 L233.99 81.89 L235.12 81.89 L236.24 81.89 L236.24 81.91 L237.37 81.91 L238.49 81.91 L238.49 81.93 L239.62 81.93 L240.75 81.93 L240.75 81.94 L241.87 81.94 L243.00 81.94 L243.00 81.96 L244.13 81.96 L245.25 81.96 L245.25 81.97 L246.38 81.97 L247.51 81.97 L247.51 81.99 L248.63 81.99 L249.76 81.99 L249.76 82.01 L250.88 82.01 L252.01 82.01 L252.01 82.02 L253.14 82.02 L254.26 82.02 L254.26 82.04 L255.39 82.04 L256.52 82.04 L256.52 82.05 L257.64 82.05 L258.77 82.05 L258.77 82.07 L259.89 82.07 L261.02 82.07 L261.02 82.08 L262.15 82.08 L263.27 82.08 L263.27 82.10 L264.40 82.10 L264.40 84.30 L308.30 84.30 L308.30 87.40 L506.00 87.40" fill="none" stroke="#bd2550" stroke-width="1.2" stroke-linejoin="miter"/>
<path d="M113.80 67.40V73.40M111.60 70.40H116.00M136.00 70.20V76.20M133.80 73.20H138.20M139.55 70.20V76.20M137.35 73.20H141.75M143.09 70.20V76.20M140.89 73.20H145.29M146.64 71.40V77.40M144.44 74.40H148.84M150.18 71.40V77.40M147.98 74.40H152.38M153.73 72.12V78.12M151.53 75.12H155.93M157.27 72.84V78.84M155.07 75.84H159.47M160.82 73.20V79.20M158.62 76.20H163.02M164.36 73.49V79.49M162.16 76.49H166.56M167.91 73.77V79.77M165.71 76.77H170.11M171.45 73.91V79.91M169.25 76.91H173.65M175.00 74.20V80.20M172.80 77.20H177.20M177.50 74.21V80.21M175.30 77.21H179.70M181.00 74.23V80.23M178.80 77.23H183.20M185.00 74.24V80.24M182.80 77.24H187.20M190.00 74.28V80.28M187.80 77.28H192.20M194.00 74.29V80.29M191.80 77.29H196.20M198.00 74.31V80.31M195.80 77.31H200.20M203.00 74.33V80.33M200.80 77.33H205.20M207.00 74.36V80.36M204.80 77.36H209.20M210.00 74.38V80.38M207.80 77.38H212.20M222.50 78.80V84.80M220.30 81.80H224.70M225.00 78.83V84.83M222.80 81.83H227.20M235.00 78.89V84.89M232.80 81.89H237.20M237.50 78.91V84.91M235.30 81.91H239.70M248.75 78.99V84.99M246.55 81.99H250.95M252.19 79.02V85.02M249.99 82.02H254.39M255.62 79.04V85.04M253.43 82.04H257.82M259.06 79.07V85.07M256.86 82.07H261.26M262.50 79.08V85.08M260.30 82.08H264.70M270.00 81.30V87.30M267.80 84.30H272.20M273.50 81.30V87.30M271.30 84.30H275.70M277.00 81.30V87.30M274.80 84.30H279.20M280.50 81.30V87.30M278.30 84.30H282.70M284.00 81.30V87.30M281.80 84.30H286.20M287.50 81.30V87.30M285.30 84.30H289.70M291.00 81.30V87.30M288.80 84.30H293.20M320.00 84.40V90.40M317.80 87.40H322.20M342.50 84.40V90.40M340.30 87.40H344.70M345.00 84.40V90.40M342.80 87.40H347.20M363.80 84.40V90.40M361.60 87.40H366.00M366.88 84.40V90.40M364.68 87.40H369.08M369.96 84.40V90.40M367.76 87.40H372.16M373.03 84.40V90.40M370.83 87.40H375.23M376.11 84.40V90.40M373.91 87.40H378.31M379.19 84.40V90.40M376.99 87.40H381.39M382.27 84.40V90.40M380.07 87.40H384.47M385.34 84.40V90.40M383.14 87.40H387.54M388.42 84.40V90.40M386.22 87.40H390.62M391.50 84.40V90.40M389.30 87.40H393.70M405.40 84.40V90.40M403.20 87.40H407.60M425.40 84.40V90.40M423.20 87.40H427.60M443.80 84.40V90.40M441.60 87.40H446.00M446.37 84.40V90.40M444.17 87.40H448.57M448.93 84.40V90.40M446.73 87.40H451.13M451.50 84.40V90.40M449.30 87.40H453.70M460.80 84.40V90.40M458.60 87.40H463.00M464.71 84.40V90.40M462.51 87.40H466.91M468.62 84.40V90.40M466.42 87.40H470.82M472.53 84.40V90.40M470.33 87.40H474.73M476.44 84.40V90.40M474.24 87.40H478.64M480.35 84.40V90.40M478.15 87.40H482.55M484.25 84.40V90.40M482.05 87.40H486.45M488.16 84.40V90.40M485.96 87.40H490.36M492.07 84.40V90.40M489.87 87.40H494.27M495.98 84.40V90.40M493.78 87.40H498.18M499.89 84.40V90.40M497.69 87.40H502.09M503.80 84.40V90.40M501.60 87.40H506.00" stroke="#bd2550" stroke-width="1.0" fill="none"/>
<text x="9.2" y="455.80" font-size="16" font-weight="bold">B</text>
<text x="287.90" y="475.70" text-anchor="middle" font-size="12.9" >EFS according to aaIPI</text>
<text x="287.70" y="492.60" text-anchor="middle" font-size="10.7" >With Number of Subjects at Risk and 95% Confidence Limits</text>
<path d="M67.45 499.40 V733.40 H508.1" fill="none" stroke="#000" stroke-width="1.35"/>
<path d="M63.1 677.00 H67.4" stroke="#000" stroke-width="1.15"/>
<text x="58.80" y="680.70" text-anchor="end" font-size="10.7" >0.0</text>
<path d="M63.1 642.34 H67.4" stroke="#000" stroke-width="1.15"/>
<text x="58.80" y="646.04" text-anchor="end" font-size="10.7" >0.2</text>
<path d="M63.1 607.68 H67.4" stroke="#000" stroke-width="1.15"/>
<text x="58.80" y="611.38" text-anchor="end" font-size="10.7" >0.4</text>
<path d="M63.1 573.02 H67.4" stroke="#000" stroke-width="1.15"/>
<text x="58.80" y="576.72" text-anchor="end" font-size="10.7" >0.6</text>
<path d="M63.1 538.36 H67.4" stroke="#000" stroke-width="1.15"/>
<text x="58.80" y="542.06" text-anchor="end" font-size="10.7" >0.8</text>
<path d="M63.1 503.70 H67.4" stroke="#000" stroke-width="1.15"/>
<text x="58.80" y="507.40" text-anchor="end" font-size="10.7" >1.0</text>
<path d="M89.80 733.40 V736.80" stroke="#000" stroke-width="1.15"/>
<text x="89.80" y="751.50" text-anchor="middle" font-size="10.7" >0</text>
<path d="M193.47 733.40 V736.80" stroke="#000" stroke-width="1.15"/>
<text x="193.47" y="751.50" text-anchor="middle" font-size="10.7" >6</text>
<path d="M297.15 733.40 V736.80" stroke="#000" stroke-width="1.15"/>
<text x="297.15" y="751.50" text-anchor="middle" font-size="10.7" >12</text>
<path d="M400.82 733.40 V736.80" stroke="#000" stroke-width="1.15"/>
<text x="400.82" y="751.50" text-anchor="middle" font-size="10.7" >18</text>
<path d="M504.50 733.40 V736.80" stroke="#000" stroke-width="1.15"/>
<text x="504.50" y="751.50" text-anchor="middle" font-size="10.7" >24</text>
<text transform="translate(287.5 769.00) scale(0.79 1)" x="0" y="0" text-anchor="middle" font-size="12" style="stroke-width:0.4px">EFS time (first-line) (months)</text>
<text transform="translate(35.9 590.50) rotate(-90) scale(0.68 1)" x="0" y="0" text-anchor="middle" font-size="12.5" letter-spacing="0.3" style="stroke-width:0.38px">Survival probability</text>
<text x="92.00" y="663.60" text-anchor="start" font-size="10.7" >+ Censored</text>
<text x="76.6" y="676.70" font-size="10.7">Logrank <tspan font-style="italic">P</tspan> &lt; .0001</text>
<text x="62.60" y="696.70" text-anchor="end" font-size="10.7" >0</text>
<text x="89.80" y="696.70" text-anchor="middle" font-size="10.7" >76</text>
<text x="193.47" y="696.70" text-anchor="middle" font-size="10.7" >44</text>
<text x="297.15" y="696.70" text-anchor="middle" font-size="10.7" >30</text>
<text x="400.82" y="696.70" text-anchor="middle" font-size="10.7" >20</text>
<text x="504.50" y="696.70" text-anchor="middle" font-size="10.7" >9</text>
<text x="62.60" y="708.10" text-anchor="end" font-size="10.7" >1</text>
<text x="89.80" y="708.10" text-anchor="middle" font-size="10.7" >197</text>
<text x="193.47" y="708.10" text-anchor="middle" font-size="10.7" >117</text>
<text x="297.15" y="708.10" text-anchor="middle" font-size="10.7" >82</text>
<text x="400.82" y="708.10" text-anchor="middle" font-size="10.7" >50</text>
<text x="504.50" y="708.10" text-anchor="middle" font-size="10.7" >23</text>
<text x="62.60" y="719.40" text-anchor="end" font-size="10.7" >2</text>
<text x="89.80" y="719.40" text-anchor="middle" font-size="10.7" >244</text>
<text x="193.47" y="719.40" text-anchor="middle" font-size="10.7" >122</text>
<text x="297.15" y="719.40" text-anchor="middle" font-size="10.7" >68</text>
<text x="400.82" y="719.40" text-anchor="middle" font-size="10.7" >35</text>
<text x="504.50" y="719.40" text-anchor="middle" font-size="10.7" >13</text>
<text x="62.60" y="730.60" text-anchor="end" font-size="10.7" >3</text>
<text x="89.80" y="730.60" text-anchor="middle" font-size="10.7" >93</text>
<text x="193.47" y="730.60" text-anchor="middle" font-size="10.7" >42</text>
<text x="297.15" y="730.60" text-anchor="middle" font-size="10.7" >22</text>
<text x="400.82" y="730.60" text-anchor="middle" font-size="10.7" >12</text>
<text x="504.50" y="730.60" text-anchor="middle" font-size="10.7" >1</text>
<path d="M458 638.10 H470.8" stroke="#b52248" stroke-width="1.3"/>
<text x="475.20" y="641.40" text-anchor="start" font-size="9.4" >0</text>
<path d="M458 649.70 H470.8" stroke="#22375a" stroke-width="1.3"/>
<text x="475.20" y="653.00" text-anchor="start" font-size="9.4" >1</text>
<path d="M458 660.90 H470.8" stroke="#de983c" stroke-width="1.3"/>
<text x="475.20" y="664.20" text-anchor="start" font-size="9.4" >2</text>
<path d="M458 672.40 H470.8" stroke="#389438" stroke-width="1.3"/>
<text x="475.20" y="675.70" text-anchor="start" font-size="9.4" >3</text>
<text x="180.00" y="786.60" text-anchor="middle" font-size="10.7" >No. of Subjects</text>
<text x="250.30" y="786.60" text-anchor="middle" font-size="10.7" >Event</text>
<text x="328.50" y="786.60" text-anchor="middle" font-size="10.7" >Censored</text>
<text x="426.50" y="786.60" text-anchor="middle" font-size="10.7" >Median Survival (95%CL)</text>
<text x="99.80" y="802.90" text-anchor="start" font-size="10.7" >0</text>
<text x="180.80" y="802.90" text-anchor="middle" font-size="10.7" >76</text>
<text x="259.00" y="802.90" text-anchor="middle" font-size="10.7" >2.6% (2)</text>
<text x="333.70" y="802.90" text-anchor="middle" font-size="10.7" >97.4% (74)</text>
<text x="426.80" y="802.90" text-anchor="middle" font-size="10.7" >Not reached</text>
<text x="99.80" y="819.30" text-anchor="start" font-size="10.7" >1</text>
<text x="180.80" y="819.30" text-anchor="middle" font-size="10.7" >197</text>
<text x="259.00" y="819.30" text-anchor="middle" font-size="10.7" >8.6% (17)</text>
<text x="333.70" y="819.30" text-anchor="middle" font-size="10.7" >91.4% (180)</text>
<text x="426.80" y="819.30" text-anchor="middle" font-size="10.7" >Not reached</text>
<text x="99.80" y="835.70" text-anchor="start" font-size="10.7" >2</text>
<text x="180.80" y="835.70" text-anchor="middle" font-size="10.7" >244</text>
<text x="259.00" y="835.70" text-anchor="middle" font-size="10.7" >25.4% (62)</text>
<text x="333.70" y="835.70" text-anchor="middle" font-size="10.7" >74.6% (182)</text>
<text x="426.80" y="835.70" text-anchor="middle" font-size="10.7" >Not reached</text>
<text x="99.80" y="851.90" text-anchor="start" font-size="10.7" >3</text>
<text x="180.80" y="851.90" text-anchor="middle" font-size="10.7" >93</text>
<text x="259.00" y="851.90" text-anchor="middle" font-size="10.7" >39.8% (37)</text>
<text x="333.70" y="851.90" text-anchor="middle" font-size="10.7" >60.2% (56)</text>
<text x="426.80" y="851.90" text-anchor="middle" font-size="10.7" >16 (6.4 ; NA)</text>
<path d="M89.60 503.40 L96.50 503.40 L97.62 503.40 L97.62 504.70 L98.75 504.70 L99.88 504.70 L99.88 506.00 L101.00 506.00 L102.14 506.00 L102.14 506.14 L103.29 506.14 L104.43 506.14 L104.43 506.29 L105.57 506.29 L106.71 506.29 L106.71 506.43 L107.86 506.43 L109.00 506.43 L109.00 506.57 L110.14 506.57 L111.29 506.57 L111.29 506.71 L112.43 506.71 L113.57 506.71 L113.57 506.86 L114.71 506.86 L115.86 506.86 L115.86 507.00 L117.00 507.00 L118.17 507.00 L118.17 507.67 L119.33 507.67 L120.50 507.67 L120.50 508.33 L121.67 508.33 L122.83 508.33 L122.83 509.00 L124.00 509.00 L125.17 509.00 L125.17 509.67 L126.33 509.67 L127.50 509.67 L127.50 510.33 L128.67 510.33 L129.83 510.33 L129.83 511.00 L131.00 511.00 L132.17 511.00 L132.17 512.50 L133.33 512.50 L134.50 512.50 L134.50 514.00 L135.67 514.00 L136.83 514.00 L136.83 515.50 L138.00 515.50 L139.17 515.50 L139.17 517.00 L140.33 517.00 L141.50 517.00 L141.50 518.50 L142.67 518.50 L143.83 518.50 L143.83 520.00 L145.00 520.00 L146.07 520.00 L146.07 521.14 L147.14 521.14 L148.21 521.14 L148.21 522.29 L149.29 522.29 L150.36 522.29 L150.36 523.43 L151.43 523.43 L152.50 523.43 L152.50 524.57 L153.57 524.57 L154.64 524.57 L154.64 525.71 L155.71 525.71 L156.79 525.71 L156.79 526.86 L157.86 526.86 L158.93 526.86 L158.93 528.00 L160.00 528.00 L161.00 528.00 L161.00 529.48 L162.00 529.48 L163.00 529.48 L163.00 530.96 L164.00 530.96 L165.00 530.96 L165.00 532.44 L166.00 532.44 L167.00 532.44 L167.00 533.92 L168.00 533.92 L169.00 533.92 L169.00 535.40 L170.00 535.40 L171.15 535.40 L171.15 536.22 L172.30 536.22 L173.45 536.22 L173.45 537.04 L174.60 537.04 L175.75 537.04 L175.75 537.86 L176.90 537.86 L178.05 537.86 L178.05 538.68 L179.20 538.68 L180.35 538.68 L180.35 539.50 L181.50 539.50 L182.65 539.50 L182.65 540.80 L183.80 540.80 L184.95 540.80 L184.95 542.10 L186.10 542.10 L187.25 542.10 L187.25 543.40 L188.40 543.40 L189.55 543.40 L189.55 544.70 L190.70 544.70 L191.85 544.70 L191.85 546.00 L193.00 546.00 L194.17 546.00 L194.17 548.23 L195.33 548.23 L196.50 548.23 L196.50 550.47 L197.67 550.47 L198.83 550.47 L198.83 552.70 L200.00 552.70 L201.15 552.70 L201.15 553.05 L202.30 553.05 L203.45 553.05 L203.45 553.40 L204.60 553.40 L205.75 553.40 L205.75 553.75 L206.90 553.75 L208.05 553.75 L208.05 554.10 L209.20 554.10 L210.35 554.10 L210.35 554.45 L211.50 554.45 L212.65 554.45 L212.65 554.80 L213.80 554.80 L214.95 554.80 L214.95 555.15 L216.10 555.15 L217.25 555.15 L217.25 555.50 L218.40 555.50 L219.55 555.50 L219.55 555.85 L220.70 555.85 L221.85 555.85 L221.85 556.20 L223.00 556.20 L224.20 556.20 L224.20 557.36 L225.40 557.36 L226.60 557.36 L226.60 558.52 L227.80 558.52 L229.00 558.52 L229.00 559.68 L230.20 559.68 L231.40 559.68 L231.40 560.84 L232.60 560.84 L233.80 560.84 L233.80 562.00 L235.00 562.00 L236.07 562.00 L236.07 562.24 L237.14 562.24 L238.21 562.24 L238.21 562.49 L239.29 562.49 L240.36 562.49 L240.36 562.73 L241.43 562.73 L242.50 562.73 L242.50 562.97 L243.57 562.97 L244.64 562.97 L244.64 563.21 L245.71 563.21 L246.79 563.21 L246.79 563.46 L247.86 563.46 L248.93 563.46 L248.93 563.70 L250.00 563.70 L251.07 563.70 L251.07 563.94 L252.14 563.94 L253.21 563.94 L253.21 564.19 L254.29 564.19 L255.36 564.19 L255.36 564.43 L256.43 564.43 L257.50 564.43 L257.50 564.67 L258.57 564.67 L259.64 564.67 L259.64 564.91 L260.71 564.91 L261.79 564.91 L261.79 565.16 L262.86 565.16 L263.93 565.16 L263.93 565.40 L265.00 565.40 L266.12 565.40 L266.12 565.43 L267.24 565.43 L268.36 565.43 L268.36 565.46 L269.48 565.46 L270.60 565.46 L270.60 565.49 L271.71 565.49 L272.83 565.49 L272.83 565.51 L273.95 565.51 L275.07 565.51 L275.07 565.54 L276.19 565.54 L277.31 565.54 L277.31 565.57 L278.43 565.57 L279.55 565.57 L279.55 565.60 L280.67 565.60 L281.79 565.60 L281.79 565.63 L282.90 565.63 L284.02 565.63 L284.02 565.66 L285.14 565.66 L286.26 565.66 L286.26 565.69 L287.38 565.69 L288.50 565.69 L288.50 565.71 L289.62 565.71 L290.74 565.71 L290.74 565.74 L291.86 565.74 L292.98 565.74 L292.98 565.77 L294.10 565.77 L295.21 565.77 L295.21 565.80 L296.33 565.80 L297.45 565.80 L297.45 565.83 L298.57 565.83 L299.69 565.83 L299.69 565.86 L300.81 565.86 L301.93 565.86 L301.93 565.89 L303.05 565.89 L304.17 565.89 L304.17 565.91 L305.29 565.91 L306.40 565.91 L306.40 565.94 L307.52 565.94 L308.64 565.94 L308.64 565.97 L309.76 565.97 L310.88 565.97 L310.88 566.00 L312.00 566.00 L312.00 569.80 L366.00 569.80 L366.00 574.00 L504.00 574.00 L504.00 616.40 L366.00 616.40 L366.00 610.00 L312.00 610.00 L312.00 605.80 L265.00 605.80 L265.00 602.30 L244.00 602.30 L244.00 598.30 L218.80 598.30 L218.80 593.50 L217.75 593.50 L217.75 593.15 L216.69 593.15 L215.63 593.15 L215.63 592.80 L214.58 592.80 L213.53 592.80 L213.53 592.45 L212.47 592.45 L211.42 592.45 L211.42 592.10 L210.36 592.10 L209.31 592.10 L209.31 591.75 L208.25 591.75 L207.19 591.75 L207.19 591.40 L206.14 591.40 L205.08 591.40 L205.08 591.05 L204.03 591.05 L202.97 591.05 L202.97 590.70 L201.92 590.70 L200.87 590.70 L200.87 590.35 L199.81 590.35 L198.75 590.35 L198.75 590.00 L197.70 590.00 L197.70 586.00 L196.75 586.00 L196.75 584.00 L195.80 584.00 L194.85 584.00 L194.85 582.00 L193.90 582.00 L192.95 582.00 L192.95 580.00 L192.00 580.00 L191.00 580.00 L191.00 577.00 L190.00 577.00 L189.00 577.00 L189.00 574.00 L188.00 574.00 L188.00 572.00 L186.93 572.00 L186.93 571.50 L185.87 571.50 L184.80 571.50 L184.80 571.00 L183.73 571.00 L182.67 571.00 L182.67 570.50 L181.60 570.50 L180.53 570.50 L180.53 570.00 L179.47 570.00 L178.40 570.00 L178.40 569.50 L177.33 569.50 L176.27 569.50 L176.27 569.00 L175.20 569.00 L174.13 569.00 L174.13 568.50 L173.07 568.50 L172.00 568.50 L172.00 568.00 L170.93 568.00 L169.87 568.00 L169.87 567.50 L168.80 567.50 L167.60 567.50 L167.60 565.25 L166.40 565.25 L165.20 565.25 L165.20 563.00 L164.00 563.00 L162.80 563.00 L162.80 561.00 L161.60 561.00 L160.40 561.00 L160.40 559.00 L159.20 559.00 L159.20 555.00 L158.00 555.00 L158.00 553.67 L156.80 553.67 L155.60 553.67 L155.60 552.33 L154.40 552.33 L153.20 552.33 L153.20 551.00 L152.00 551.00 L150.97 551.00 L150.97 550.00 L149.95 550.00 L148.93 550.00 L148.93 549.00 L147.90 549.00 L146.88 549.00 L146.88 548.00 L145.85 548.00 L144.83 548.00 L144.83 547.00 L143.80 547.00 L142.85 547.00 L142.85 543.80 L141.90 543.80 L140.95 543.80 L140.95 540.60 L140.00 540.60 L138.92 540.60 L138.92 535.73 L137.83 535.73 L136.75 535.73 L136.75 530.87 L135.67 530.87 L134.58 530.87 L134.58 526.00 L133.50 526.00 L132.38 526.00 L132.38 525.33 L131.25 525.33 L130.12 525.33 L130.12 524.67 L129.00 524.67 L127.88 524.67 L127.88 524.00 L126.75 524.00 L125.62 524.00 L125.62 523.33 L124.50 523.33 L123.38 523.33 L123.38 522.67 L122.25 522.67 L121.12 522.67 L121.12 522.00 L120.00 522.00 L120.00 519.00 L99.00 519.00 L97.75 519.00 L97.75 505.00 L96.50 505.00 L95.35 505.00 L95.35 504.47 L94.20 504.47 L93.05 504.47 L93.05 503.93 L91.90 503.93 L90.75 503.93 L90.75 503.40 L89.60 503.40Z" fill="#d3e8cd" style="mix-blend-mode:multiply"/>
<path d="M89.60 503.40 L101.00 503.40 L101.00 505.00 L102.07 505.00 L102.07 505.21 L103.14 505.21 L104.21 505.21 L104.21 505.43 L105.29 505.43 L106.36 505.43 L106.36 505.64 L107.43 505.64 L108.50 505.64 L108.50 505.86 L109.57 505.86 L110.64 505.86 L110.64 506.07 L111.71 506.07 L112.79 506.07 L112.79 506.29 L113.86 506.29 L114.93 506.29 L114.93 506.50 L116.00 506.50 L117.07 506.50 L117.07 506.71 L118.14 506.71 L119.21 506.71 L119.21 506.93 L120.29 506.93 L121.36 506.93 L121.36 507.14 L122.43 507.14 L123.50 507.14 L123.50 507.36 L124.57 507.36 L125.64 507.36 L125.64 507.57 L126.71 507.57 L127.79 507.57 L127.79 507.79 L128.86 507.79 L129.93 507.79 L129.93 508.00 L131.00 508.00 L132.00 508.00 L132.00 509.43 L133.00 509.43 L134.00 509.43 L134.00 510.87 L135.00 510.87 L136.00 510.87 L136.00 512.30 L137.00 512.30 L138.06 512.30 L138.06 512.95 L139.12 512.95 L140.19 512.95 L140.19 513.60 L141.25 513.60 L142.31 513.60 L142.31 514.25 L143.38 514.25 L144.44 514.25 L144.44 514.90 L145.50 514.90 L146.56 514.90 L146.56 515.55 L147.62 515.55 L148.69 515.55 L148.69 516.20 L149.75 516.20 L150.81 516.20 L150.81 516.85 L151.88 516.85 L152.94 516.85 L152.94 517.50 L154.00 517.50 L155.09 517.50 L155.09 518.15 L156.19 518.15 L157.28 518.15 L157.28 518.80 L158.38 518.80 L159.47 518.80 L159.47 519.45 L160.56 519.45 L161.66 519.45 L161.66 520.10 L162.75 520.10 L163.84 520.10 L163.84 520.75 L164.94 520.75 L166.03 520.75 L166.03 521.40 L167.12 521.40 L168.22 521.40 L168.22 522.05 L169.31 522.05 L170.41 522.05 L170.41 522.70 L171.50 522.70 L172.59 522.70 L172.59 523.56 L173.69 523.56 L174.78 523.56 L174.78 524.43 L175.88 524.43 L176.97 524.43 L176.97 525.29 L178.06 525.29 L179.16 525.29 L179.16 526.15 L180.25 526.15 L181.34 526.15 L181.34 527.01 L182.44 527.01 L183.53 527.01 L183.53 527.88 L184.62 527.88 L185.72 527.88 L185.72 528.74 L186.81 528.74 L187.91 528.74 L187.91 529.60 L189.00 529.60 L190.06 529.60 L190.06 530.46 L191.12 530.46 L192.19 530.46 L192.19 531.33 L193.25 531.33 L194.31 531.33 L194.31 532.19 L195.38 532.19 L196.44 532.19 L196.44 533.05 L197.50 533.05 L198.56 533.05 L198.56 533.91 L199.62 533.91 L200.69 533.91 L200.69 534.77 L201.75 534.77 L202.81 534.77 L202.81 535.64 L203.88 535.64 L204.94 535.64 L204.94 536.50 L206.00 536.50 L207.00 536.50 L207.00 536.96 L208.00 536.96 L209.00 536.96 L209.00 537.42 L210.00 537.42 L211.00 537.42 L211.00 537.88 L212.00 537.88 L213.00 537.88 L213.00 538.34 L214.00 538.34 L215.00 538.34 L215.00 538.80 L216.00 538.80 L246.00 538.80 L246.00 543.30 L335.50 543.30 L335.50 547.60 L359.80 547.60 L359.80 555.00 L410.60 555.00 L410.60 556.00 L504.00 556.00 L504.00 586.70 L410.60 586.70 L410.60 582.50 L351.00 582.50 L351.00 576.20 L335.50 576.20 L335.50 569.80 L311.00 569.80 L311.00 565.60 L265.00 565.60 L265.00 563.00 L235.00 563.00 L235.00 562.00 L233.88 562.00 L233.88 561.91 L232.77 561.91 L231.65 561.91 L231.65 561.82 L230.54 561.82 L229.42 561.82 L229.42 561.72 L228.31 561.72 L227.19 561.72 L227.19 561.63 L226.08 561.63 L224.96 561.63 L224.96 561.54 L223.85 561.54 L222.73 561.54 L222.73 561.45 L221.62 561.45 L220.50 561.45 L220.50 561.35 L219.38 561.35 L218.27 561.35 L218.27 561.26 L217.15 561.26 L216.04 561.26 L216.04 561.17 L214.92 561.17 L213.81 561.17 L213.81 561.08 L212.69 561.08 L211.58 561.08 L211.58 560.98 L210.46 560.98 L209.35 560.98 L209.35 560.89 L208.23 560.89 L207.12 560.89 L207.12 560.80 L206.00 560.80 L205.00 560.80 L205.00 559.53 L204.00 559.53 L203.00 559.53 L203.00 558.27 L202.00 558.27 L201.00 558.27 L201.00 557.00 L200.00 557.00 L198.90 557.00 L198.90 556.00 L197.80 556.00 L196.70 556.00 L196.70 555.00 L195.60 555.00 L194.50 555.00 L194.50 554.00 L193.40 554.00 L192.30 554.00 L192.30 553.00 L191.20 553.00 L190.10 553.00 L190.10 552.00 L189.00 552.00 L187.91 552.00 L187.91 550.50 L186.81 550.50 L185.72 550.50 L185.72 549.00 L184.62 549.00 L183.53 549.00 L183.53 547.50 L182.44 547.50 L181.34 547.50 L181.34 546.00 L180.25 546.00 L179.16 546.00 L179.16 544.50 L178.06 544.50 L176.97 544.50 L176.97 543.00 L175.88 543.00 L174.78 543.00 L174.78 541.50 L173.69 541.50 L172.59 541.50 L172.59 540.00 L171.50 540.00 L170.41 540.00 L170.41 538.70 L169.31 538.70 L168.22 538.70 L168.22 537.40 L167.12 537.40 L166.03 537.40 L166.03 536.10 L164.94 536.10 L163.84 536.10 L163.84 534.80 L162.75 534.80 L161.66 534.80 L161.66 533.50 L160.56 533.50 L159.47 533.50 L159.47 532.20 L158.38 532.20 L157.28 532.20 L157.28 530.90 L156.19 530.90 L155.09 530.90 L155.09 529.60 L154.00 529.60 L152.94 529.60 L152.94 528.74 L151.88 528.74 L150.81 528.74 L150.81 527.88 L149.75 527.88 L148.69 527.88 L148.69 527.01 L147.62 527.01 L146.56 527.01 L146.56 526.15 L145.50 526.15 L144.44 526.15 L144.44 525.29 L143.38 525.29 L142.31 525.29 L142.31 524.43 L141.25 524.43 L140.19 524.43 L140.19 523.56 L139.12 523.56 L138.06 523.56 L138.06 522.70 L137.00 522.70 L135.90 522.70 L135.90 521.86 L134.80 521.86 L133.70 521.86 L133.70 521.02 L132.60 521.02 L131.50 521.02 L131.50 520.18 L130.40 520.18 L129.30 520.18 L129.30 519.34 L128.20 519.34 L127.10 519.34 L127.10 518.50 L126.00 518.50 L110.00 518.50 L108.88 518.50 L108.88 516.88 L107.75 516.88 L106.62 516.88 L106.62 515.25 L105.50 515.25 L104.38 515.25 L104.38 513.62 L103.25 513.62 L102.12 513.62 L102.12 512.00 L101.00 512.00 L99.86 512.00 L99.86 510.28 L98.72 510.28 L97.58 510.28 L97.58 508.56 L96.44 508.56 L95.30 508.56 L95.30 506.84 L94.16 506.84 L93.02 506.84 L93.02 505.12 L91.88 505.12 L90.74 505.12 L90.74 503.40 L89.60 503.40Z" fill="#fde0c2" style="mix-blend-mode:multiply"/>
<path d="M89.60 503.40 L101.00 503.40 L102.12 503.40 L102.12 503.80 L103.25 503.80 L104.38 503.80 L104.38 504.20 L105.50 504.20 L106.62 504.20 L106.62 504.60 L107.75 504.60 L108.88 504.60 L108.88 505.00 L110.00 505.00 L111.14 505.00 L111.14 505.09 L112.27 505.09 L113.41 505.09 L113.41 505.18 L114.55 505.18 L115.68 505.18 L115.68 505.27 L116.82 505.27 L117.95 505.27 L117.95 505.36 L119.09 505.36 L120.23 505.36 L120.23 505.45 L121.36 505.45 L122.50 505.45 L122.50 505.55 L123.64 505.55 L124.77 505.55 L124.77 505.64 L125.91 505.64 L127.05 505.64 L127.05 505.73 L128.18 505.73 L129.32 505.73 L129.32 505.82 L130.45 505.82 L131.59 505.82 L131.59 505.91 L132.73 505.91 L133.86 505.91 L133.86 506.00 L135.00 506.00 L136.14 506.00 L136.14 506.09 L137.27 506.09 L138.41 506.09 L138.41 506.18 L139.55 506.18 L140.68 506.18 L140.68 506.27 L141.82 506.27 L142.95 506.27 L142.95 506.36 L144.09 506.36 L145.23 506.36 L145.23 506.45 L146.36 506.45 L147.50 506.45 L147.50 506.55 L148.64 506.55 L149.77 506.55 L149.77 506.64 L150.91 506.64 L152.05 506.64 L152.05 506.73 L153.18 506.73 L154.32 506.73 L154.32 506.82 L155.45 506.82 L156.59 506.82 L156.59 506.91 L157.73 506.91 L158.86 506.91 L158.86 507.00 L160.00 507.00 L161.00 507.00 L161.00 507.40 L162.00 507.40 L163.00 507.40 L163.00 507.80 L164.00 507.80 L165.00 507.80 L165.00 508.20 L166.00 508.20 L167.00 508.20 L167.00 508.60 L168.00 508.60 L169.00 508.60 L169.00 509.00 L170.00 509.00 L171.11 509.00 L171.11 509.07 L172.22 509.07 L173.33 509.07 L173.33 509.15 L174.44 509.15 L175.56 509.15 L175.56 509.22 L176.67 509.22 L177.78 509.22 L177.78 509.30 L178.89 509.30 L180.00 509.30 L180.00 509.37 L181.11 509.37 L182.22 509.37 L182.22 509.44 L183.33 509.44 L184.44 509.44 L184.44 509.52 L185.56 509.52 L186.67 509.52 L186.67 509.59 L187.78 509.59 L188.89 509.59 L188.89 509.67 L190.00 509.67 L191.11 509.67 L191.11 509.74 L192.22 509.74 L193.33 509.74 L193.33 509.81 L194.44 509.81 L195.56 509.81 L195.56 509.89 L196.67 509.89 L197.78 509.89 L197.78 509.96 L198.89 509.96 L200.00 509.96 L200.00 510.04 L201.11 510.04 L202.22 510.04 L202.22 510.11 L203.33 510.11 L204.44 510.11 L204.44 510.19 L205.56 510.19 L206.67 510.19 L206.67 510.26 L207.78 510.26 L208.89 510.26 L208.89 510.33 L210.00 510.33 L211.11 510.33 L211.11 510.41 L212.22 510.41 L213.33 510.41 L213.33 510.48 L214.44 510.48 L215.56 510.48 L215.56 510.56 L216.67 510.56 L217.78 510.56 L217.78 510.63 L218.89 510.63 L220.00 510.63 L220.00 510.70 L221.11 510.70 L222.22 510.70 L222.22 510.78 L223.33 510.78 L224.44 510.78 L224.44 510.85 L225.56 510.85 L226.67 510.85 L226.67 510.93 L227.78 510.93 L228.89 510.93 L228.89 511.00 L230.00 511.00 L231.11 511.00 L231.11 511.08 L232.22 511.08 L233.33 511.08 L233.33 511.16 L234.44 511.16 L235.56 511.16 L235.56 511.24 L236.67 511.24 L237.78 511.24 L237.78 511.33 L238.89 511.33 L240.00 511.33 L240.00 511.41 L241.11 511.41 L242.22 511.41 L242.22 511.49 L243.33 511.49 L244.44 511.49 L244.44 511.57 L245.56 511.57 L246.67 511.57 L246.67 511.65 L247.78 511.65 L248.89 511.65 L248.89 511.73 L250.00 511.73 L251.11 511.73 L251.11 511.81 L252.22 511.81 L253.33 511.81 L253.33 511.90 L254.44 511.90 L255.56 511.90 L255.56 511.98 L256.67 511.98 L257.78 511.98 L257.78 512.06 L258.89 512.06 L260.00 512.06 L260.00 512.14 L261.11 512.14 L262.22 512.14 L262.22 512.22 L263.33 512.22 L264.44 512.22 L264.44 512.30 L265.56 512.30 L266.67 512.30 L266.67 512.39 L267.78 512.39 L268.89 512.39 L268.89 512.47 L270.00 512.47 L271.11 512.47 L271.11 512.55 L272.22 512.55 L273.33 512.55 L273.33 512.63 L274.44 512.63 L275.56 512.63 L275.56 512.71 L276.67 512.71 L277.78 512.71 L277.78 512.79 L278.89 512.79 L280.00 512.79 L280.00 512.87 L281.11 512.87 L282.22 512.87 L282.22 512.96 L283.33 512.96 L284.44 512.96 L284.44 513.04 L285.56 513.04 L286.67 513.04 L286.67 513.12 L287.78 513.12 L288.89 513.12 L288.89 513.20 L290.00 513.20 L291.12 513.20 L291.12 513.36 L292.25 513.36 L293.38 513.36 L293.38 513.53 L294.50 513.53 L295.62 513.53 L295.62 513.69 L296.75 513.69 L297.88 513.69 L297.88 513.85 L299.00 513.85 L300.12 513.85 L300.12 514.01 L301.25 514.01 L302.38 514.01 L302.38 514.17 L303.50 514.17 L304.62 514.17 L304.62 514.34 L305.75 514.34 L306.88 514.34 L306.88 514.50 L308.00 514.50 L309.10 514.50 L309.10 514.51 L310.20 514.51 L311.30 514.51 L311.30 514.52 L312.40 514.52 L313.51 514.52 L313.51 514.53 L314.61 514.53 L315.71 514.53 L315.71 514.54 L316.81 514.54 L317.91 514.54 L317.91 514.56 L319.01 514.56 L320.11 514.56 L320.11 514.57 L321.21 514.57 L322.31 514.57 L322.31 514.58 L323.42 514.58 L324.52 514.58 L324.52 514.59 L325.62 514.59 L326.72 514.59 L326.72 514.60 L327.82 514.60 L328.92 514.60 L328.92 514.61 L330.02 514.61 L331.12 514.61 L331.12 514.62 L332.22 514.62 L333.33 514.62 L333.33 514.63 L334.43 514.63 L335.53 514.63 L335.53 514.65 L336.63 514.65 L337.73 514.65 L337.73 514.66 L338.83 514.66 L339.93 514.66 L339.93 514.67 L341.03 514.67 L342.13 514.67 L342.13 514.68 L343.24 514.68 L344.34 514.68 L344.34 514.69 L345.44 514.69 L346.54 514.69 L346.54 514.70 L347.64 514.70 L348.74 514.70 L348.74 514.71 L349.84 514.71 L350.94 514.71 L350.94 514.72 L352.04 514.72 L353.15 514.72 L353.15 514.74 L354.25 514.74 L355.35 514.74 L355.35 514.75 L356.45 514.75 L357.55 514.75 L357.55 514.76 L358.65 514.76 L359.75 514.76 L359.75 514.77 L360.85 514.77 L361.96 514.77 L361.96 514.78 L363.06 514.78 L364.16 514.78 L364.16 514.79 L365.26 514.79 L366.36 514.79 L366.36 514.80 L367.46 514.80 L368.56 514.80 L368.56 514.81 L369.66 514.81 L370.76 514.81 L370.76 514.83 L371.87 514.83 L372.97 514.83 L372.97 514.84 L374.07 514.84 L375.17 514.84 L375.17 514.85 L376.27 514.85 L377.37 514.85 L377.37 514.86 L378.47 514.86 L379.57 514.86 L379.57 514.87 L380.67 514.87 L381.78 514.87 L381.78 514.88 L382.88 514.88 L383.98 514.88 L383.98 514.89 L385.08 514.89 L386.18 514.89 L386.18 514.90 L387.28 514.90 L388.38 514.90 L388.38 514.92 L389.48 514.92 L390.58 514.92 L390.58 514.93 L391.69 514.93 L392.79 514.93 L392.79 514.94 L393.89 514.94 L394.99 514.94 L394.99 514.95 L396.09 514.95 L397.19 514.95 L397.19 514.96 L398.29 514.96 L399.39 514.96 L399.39 514.97 L400.49 514.97 L401.60 514.97 L401.60 514.98 L402.70 514.98 L403.80 514.98 L403.80 514.99 L404.90 514.99 L406.00 514.99 L406.00 515.01 L407.10 515.01 L408.20 515.01 L408.20 515.02 L409.30 515.02 L410.40 515.02 L410.40 515.03 L411.51 515.03 L412.61 515.03 L412.61 515.04 L413.71 515.04 L414.81 515.04 L414.81 515.05 L415.91 515.05 L417.01 515.05 L417.01 515.06 L418.11 515.06 L419.21 515.06 L419.21 515.07 L420.31 515.07 L421.42 515.07 L421.42 515.08 L422.52 515.08 L423.62 515.08 L423.62 515.10 L424.72 515.10 L425.82 515.10 L425.82 515.11 L426.92 515.11 L428.02 515.11 L428.02 515.12 L429.12 515.12 L430.22 515.12 L430.22 515.13 L431.33 515.13 L432.43 515.13 L432.43 515.14 L433.53 515.14 L434.63 515.14 L434.63 515.15 L435.73 515.15 L436.83 515.15 L436.83 515.16 L437.93 515.16 L439.03 515.16 L439.03 515.17 L440.13 515.17 L441.24 515.17 L441.24 515.19 L442.34 515.19 L443.44 515.19 L443.44 515.20 L444.54 515.20 L445.64 515.20 L445.64 515.21 L446.74 515.21 L447.84 515.21 L447.84 515.22 L448.94 515.22 L450.04 515.22 L450.04 515.23 L451.15 515.23 L452.25 515.23 L452.25 515.24 L453.35 515.24 L454.45 515.24 L454.45 515.25 L455.55 515.25 L456.65 515.25 L456.65 515.26 L457.75 515.26 L458.85 515.26 L458.85 515.28 L459.96 515.28 L461.06 515.28 L461.06 515.29 L462.16 515.29 L463.26 515.29 L463.26 515.30 L464.36 515.30 L465.46 515.30 L465.46 515.31 L466.56 515.31 L467.66 515.31 L467.66 515.32 L468.76 515.32 L469.87 515.32 L469.87 515.33 L470.97 515.33 L472.07 515.33 L472.07 515.34 L473.17 515.34 L474.27 515.34 L474.27 515.35 L475.37 515.35 L476.47 515.35 L476.47 515.37 L477.57 515.37 L478.67 515.37 L478.67 515.38 L479.78 515.38 L480.88 515.38 L480.88 515.39 L481.98 515.39 L483.08 515.39 L483.08 515.40 L484.18 515.40 L485.28 515.40 L485.28 515.41 L486.38 515.41 L487.48 515.41 L487.48 515.42 L488.58 515.42 L489.69 515.42 L489.69 515.43 L490.79 515.43 L491.89 515.43 L491.89 515.44 L492.99 515.44 L494.09 515.44 L494.09 515.46 L495.19 515.46 L496.29 515.46 L496.29 515.47 L497.39 515.47 L498.49 515.47 L498.49 515.48 L499.60 515.48 L500.70 515.48 L500.70 515.49 L501.80 515.49 L502.90 515.49 L502.90 515.50 L504.00 515.50 L504.00 535.70 L378.80 535.70 L378.80 529.80 L265.00 529.80 L265.00 528.50 L216.00 528.50 L216.00 521.50 L184.00 521.50 L183.00 521.50 L183.00 518.00 L182.00 518.00 L180.92 518.00 L180.92 517.92 L179.85 517.92 L178.77 517.92 L178.77 517.85 L177.69 517.85 L176.62 517.85 L176.62 517.77 L175.54 517.77 L174.46 517.77 L174.46 517.69 L173.38 517.69 L172.31 517.69 L172.31 517.62 L171.23 517.62 L170.15 517.62 L170.15 517.54 L169.08 517.54 L168.00 517.54 L168.00 517.46 L166.92 517.46 L165.85 517.46 L165.85 517.38 L164.77 517.38 L163.69 517.38 L163.69 517.31 L162.62 517.31 L161.54 517.31 L161.54 517.23 L160.46 517.23 L159.38 517.23 L159.38 517.15 L158.31 517.15 L157.23 517.15 L157.23 517.08 L156.15 517.08 L155.08 517.08 L155.08 517.00 L154.00 517.00 L152.83 517.00 L152.83 516.17 L151.67 516.17 L150.50 516.17 L150.50 515.33 L149.33 515.33 L148.17 515.33 L148.17 514.50 L147.00 514.50 L145.83 514.50 L145.83 513.67 L144.67 513.67 L143.50 513.67 L143.50 512.83 L142.33 512.83 L141.17 512.83 L141.17 512.00 L140.00 512.00 L138.83 512.00 L138.83 511.33 L137.67 511.33 L136.50 511.33 L136.50 510.67 L135.33 510.67 L134.17 510.67 L134.17 510.00 L133.00 510.00 L131.83 510.00 L131.83 509.33 L130.67 509.33 L129.50 509.33 L129.50 508.67 L128.33 508.67 L127.17 508.67 L127.17 508.00 L126.00 508.00 L124.86 508.00 L124.86 507.68 L123.73 507.68 L122.59 507.68 L122.59 507.36 L121.45 507.36 L120.32 507.36 L120.32 507.05 L119.18 507.05 L118.05 507.05 L118.05 506.73 L116.91 506.73 L115.77 506.73 L115.77 506.41 L114.64 506.41 L113.50 506.41 L113.50 506.09 L112.36 506.09 L111.23 506.09 L111.23 505.77 L110.09 505.77 L108.95 505.77 L108.95 505.45 L107.82 505.45 L106.68 505.45 L106.68 505.14 L105.55 505.14 L104.41 505.14 L104.41 504.82 L103.27 504.82 L102.14 504.82 L102.14 504.50 L101.00 504.50 L99.86 504.50 L99.86 504.28 L98.72 504.28 L97.58 504.28 L97.58 504.06 L96.44 504.06 L95.30 504.06 L95.30 503.84 L94.16 503.84 L93.02 503.84 L93.02 503.62 L91.88 503.62 L90.74 503.62 L90.74 503.40 L89.60 503.40Z" fill="#c4c8e8" style="mix-blend-mode:multiply"/>
<path d="M89.60 503.40 L308.00 503.40 L308.00 505.90 L504.00 505.90 L504.00 536.00 L308.00 536.00 L308.00 517.00 L306.88 517.00 L306.88 516.92 L305.77 516.92 L304.65 516.92 L304.65 516.85 L303.54 516.85 L302.42 516.85 L302.42 516.77 L301.31 516.77 L300.19 516.77 L300.19 516.69 L299.08 516.69 L297.96 516.69 L297.96 516.62 L296.85 516.62 L295.73 516.62 L295.73 516.54 L294.62 516.54 L293.50 516.54 L293.50 516.46 L292.38 516.46 L291.27 516.46 L291.27 516.38 L290.15 516.38 L289.04 516.38 L289.04 516.31 L287.92 516.31 L286.81 516.31 L286.81 516.23 L285.69 516.23 L284.58 516.23 L284.58 516.15 L283.46 516.15 L282.35 516.15 L282.35 516.08 L281.23 516.08 L280.12 516.08 L280.12 516.00 L279.00 516.00 L277.88 516.00 L277.88 515.92 L276.77 515.92 L275.65 515.92 L275.65 515.85 L274.54 515.85 L273.42 515.85 L273.42 515.77 L272.31 515.77 L271.19 515.77 L271.19 515.69 L270.08 515.69 L268.96 515.69 L268.96 515.62 L267.85 515.62 L266.73 515.62 L266.73 515.54 L265.62 515.54 L264.50 515.54 L264.50 515.46 L263.38 515.46 L262.27 515.46 L262.27 515.38 L261.15 515.38 L260.04 515.38 L260.04 515.31 L258.92 515.31 L257.81 515.31 L257.81 515.23 L256.69 515.23 L255.58 515.23 L255.58 515.15 L254.46 515.15 L253.35 515.15 L253.35 515.08 L252.23 515.08 L251.12 515.08 L251.12 515.00 L250.00 515.00 L248.91 515.00 L248.91 514.93 L247.83 514.93 L246.74 514.93 L246.74 514.87 L245.65 514.87 L244.57 514.87 L244.57 514.80 L243.48 514.80 L242.39 514.80 L242.39 514.74 L241.30 514.74 L240.22 514.74 L240.22 514.67 L239.13 514.67 L238.04 514.67 L238.04 514.61 L236.96 514.61 L235.87 514.61 L235.87 514.54 L234.78 514.54 L233.70 514.54 L233.70 514.48 L232.61 514.48 L231.52 514.48 L231.52 514.41 L230.43 514.41 L229.35 514.41 L229.35 514.35 L228.26 514.35 L227.17 514.35 L227.17 514.28 L226.09 514.28 L225.00 514.28 L225.00 514.22 L223.91 514.22 L222.83 514.22 L222.83 514.15 L221.74 514.15 L220.65 514.15 L220.65 514.09 L219.57 514.09 L218.48 514.09 L218.48 514.02 L217.39 514.02 L216.30 514.02 L216.30 513.96 L215.22 513.96 L214.13 513.96 L214.13 513.89 L213.04 513.89 L211.96 513.89 L211.96 513.83 L210.87 513.83 L209.78 513.83 L209.78 513.76 L208.70 513.76 L207.61 513.76 L207.61 513.70 L206.52 513.70 L205.43 513.70 L205.43 513.63 L204.35 513.63 L203.26 513.63 L203.26 513.57 L202.17 513.57 L201.09 513.57 L201.09 513.50 L200.00 513.50 L198.89 513.50 L198.89 513.31 L197.78 513.31 L196.67 513.31 L196.67 513.11 L195.56 513.11 L194.44 513.11 L194.44 512.92 L193.33 512.92 L192.22 512.92 L192.22 512.72 L191.11 512.72 L190.00 512.72 L190.00 512.53 L188.89 512.53 L187.78 512.53 L187.78 512.33 L186.67 512.33 L185.56 512.33 L185.56 512.14 L184.44 512.14 L183.33 512.14 L183.33 511.94 L182.22 511.94 L181.11 511.94 L181.11 511.75 L180.00 511.75 L178.89 511.75 L178.89 511.56 L177.78 511.56 L176.67 511.56 L176.67 511.36 L175.56 511.36 L174.44 511.36 L174.44 511.17 L173.33 511.17 L172.22 511.17 L172.22 510.97 L171.11 510.97 L170.00 510.97 L170.00 510.78 L168.89 510.78 L167.78 510.78 L167.78 510.58 L166.67 510.58 L165.56 510.58 L165.56 510.39 L164.44 510.39 L163.33 510.39 L163.33 510.19 L162.22 510.19 L161.11 510.19 L161.11 510.00 L160.00 510.00 L158.89 510.00 L158.89 509.83 L157.78 509.83 L156.67 509.83 L156.67 509.67 L155.56 509.67 L154.44 509.67 L154.44 509.50 L153.33 509.50 L152.22 509.50 L152.22 509.33 L151.11 509.33 L150.00 509.33 L150.00 509.17 L148.89 509.17 L147.78 509.17 L147.78 509.00 L146.67 509.00 L145.56 509.00 L145.56 508.83 L144.44 508.83 L143.33 508.83 L143.33 508.67 L142.22 508.67 L141.11 508.67 L141.11 508.50 L140.00 508.50 L138.92 508.50 L138.92 508.36 L137.83 508.36 L136.75 508.36 L136.75 508.22 L135.67 508.22 L134.58 508.22 L134.58 508.08 L133.50 508.08 L132.42 508.08 L132.42 507.94 L131.33 507.94 L130.25 507.94 L130.25 507.81 L129.17 507.81 L128.08 507.81 L128.08 507.67 L127.00 507.67 L125.92 507.67 L125.92 507.53 L124.83 507.53 L123.75 507.53 L123.75 507.39 L122.67 507.39 L121.58 507.39 L121.58 507.25 L120.50 507.25 L119.42 507.25 L119.42 507.11 L118.33 507.11 L117.25 507.11 L117.25 506.97 L116.17 506.97 L115.08 506.97 L115.08 506.83 L114.00 506.83 L112.92 506.83 L112.92 506.69 L111.83 506.69 L110.75 506.69 L110.75 506.56 L109.67 506.56 L108.58 506.56 L108.58 506.42 L107.50 506.42 L106.42 506.42 L106.42 506.28 L105.33 506.28 L104.25 506.28 L104.25 506.14 L103.17 506.14 L102.08 506.14 L102.08 506.00 L101.00 506.00 L99.86 506.00 L99.86 505.48 L98.72 505.48 L97.58 505.48 L97.58 504.96 L96.44 504.96 L95.30 504.96 L95.30 504.44 L94.16 504.44 L93.02 504.44 L93.02 503.92 L91.88 503.92 L90.74 503.92 L90.74 503.40 L89.60 503.40Z" fill="#f3c0c0" style="mix-blend-mode:multiply"/>
<path d="M308 514.5 H504 V536 H378.8 V529.8 H308Z" fill="#fcebd6" style="mix-blend-mode:multiply"/>
<path d="M95.40 503.40 L100.60 510.60M118.00 510.60 L125.80 515.50 L132.00 520.00 L136.50 524.00 L141.00 527.00 L144.00 531.00 L150.00 531.50 L154.60 532.00 L155.80 533.00 L159.20 537.50 L160.40 541.30M166.20 541.30 L167.30 545.40 L169.60 548.80 L170.80 550.60M177.70 550.60 L180.00 552.90M183.50 552.90 L187.00 555.20 L190.40 558.00 L193.80 561.50 L197.30 565.60 L200.80 569.60 L203.00 572.50M219.20 575.80 L222.70 578.00M240.80 578.00 L242.30 579.80M254.60 579.80 L256.20 583.50 L312.00 584.30" fill="none" stroke="#389a38" stroke-width="2.4" stroke-opacity="0.55" stroke-linecap="round" stroke-linejoin="round"/><path d="M89.60 503.40 L95.40 503.40 L96.70 503.40 L96.70 507.00 L98.00 507.00 L99.30 507.00 L99.30 510.60 L100.60 510.60 L118.00 510.60 L118.97 510.60 L118.97 511.83 L119.95 511.83 L120.93 511.83 L120.93 513.05 L121.90 513.05 L122.88 513.05 L122.88 514.27 L123.85 514.27 L124.82 514.27 L124.82 515.50 L125.80 515.50 L126.83 515.50 L126.83 517.00 L127.87 517.00 L128.90 517.00 L128.90 518.50 L129.93 518.50 L130.97 518.50 L130.97 520.00 L132.00 520.00 L133.12 520.00 L133.12 522.00 L134.25 522.00 L135.38 522.00 L135.38 524.00 L136.50 524.00 L137.62 524.00 L137.62 525.50 L138.75 525.50 L139.88 525.50 L139.88 527.00 L141.00 527.00 L142.50 527.00 L142.50 531.00 L144.00 531.00 L145.00 531.00 L145.00 531.17 L146.00 531.17 L147.00 531.17 L147.00 531.33 L148.00 531.33 L149.00 531.33 L149.00 531.50 L150.00 531.50 L151.15 531.50 L151.15 531.75 L152.30 531.75 L153.45 531.75 L153.45 532.00 L154.60 532.00 L155.20 532.00 L155.20 533.00 L155.80 533.00 L156.65 533.00 L156.65 535.25 L157.50 535.25 L158.35 535.25 L158.35 537.50 L159.20 537.50 L159.80 537.50 L159.80 541.30 L160.40 541.30 L166.20 541.30 L166.75 541.30 L166.75 545.40 L167.30 545.40 L168.45 545.40 L168.45 548.80 L169.60 548.80 L170.20 548.80 L170.20 550.60 L170.80 550.60 L177.70 550.60 L178.85 550.60 L178.85 552.90 L180.00 552.90 L183.50 552.90 L184.38 552.90 L184.38 554.05 L185.25 554.05 L186.12 554.05 L186.12 555.20 L187.00 555.20 L187.85 555.20 L187.85 556.60 L188.70 556.60 L189.55 556.60 L189.55 558.00 L190.40 558.00 L191.25 558.00 L191.25 559.75 L192.10 559.75 L192.95 559.75 L192.95 561.50 L193.80 561.50 L194.68 561.50 L194.68 563.55 L195.55 563.55 L196.43 563.55 L196.43 565.60 L197.30 565.60 L198.18 565.60 L198.18 567.60 L199.05 567.60 L199.93 567.60 L199.93 569.60 L200.80 569.60 L201.90 569.60 L201.90 572.50 L203.00 572.50 L219.20 572.50 L219.20 575.80 L220.07 575.80 L220.07 576.90 L220.95 576.90 L221.82 576.90 L221.82 578.00 L222.70 578.00 L240.80 578.00 L241.55 578.00 L241.55 579.80 L242.30 579.80 L254.60 579.80 L255.40 579.80 L255.40 583.50 L256.20 583.50 L257.32 583.50 L257.32 583.53 L258.43 583.53 L259.55 583.53 L259.55 583.56 L260.66 583.56 L261.78 583.56 L261.78 583.60 L262.90 583.60 L264.01 583.60 L264.01 583.63 L265.13 583.63 L266.24 583.63 L266.24 583.66 L267.36 583.66 L268.48 583.66 L268.48 583.69 L269.59 583.69 L270.71 583.69 L270.71 583.72 L271.82 583.72 L272.94 583.72 L272.94 583.76 L274.06 583.76 L275.17 583.76 L275.17 583.79 L276.29 583.79 L277.40 583.79 L277.40 583.82 L278.52 583.82 L279.64 583.82 L279.64 583.85 L280.75 583.85 L281.87 583.85 L281.87 583.88 L282.98 583.88 L284.10 583.88 L284.10 583.92 L285.22 583.92 L286.33 583.92 L286.33 583.95 L287.45 583.95 L288.56 583.95 L288.56 583.98 L289.68 583.98 L290.80 583.98 L290.80 584.01 L291.91 584.01 L293.03 584.01 L293.03 584.04 L294.14 584.04 L295.26 584.04 L295.26 584.08 L296.38 584.08 L297.49 584.08 L297.49 584.11 L298.61 584.11 L299.72 584.11 L299.72 584.14 L300.84 584.14 L301.96 584.14 L301.96 584.17 L303.07 584.17 L304.19 584.17 L304.19 584.20 L305.30 584.20 L306.42 584.20 L306.42 584.24 L307.54 584.24 L308.65 584.24 L308.65 584.27 L309.77 584.27 L310.88 584.27 L310.88 584.30 L312.00 584.30 L312.00 590.00 L366.00 590.00 L366.00 594.10 L506.00 594.10" fill="none" stroke="#389a38" stroke-width="1.2" stroke-linejoin="miter"/>
<path d="M136.50 521.00V527.00M134.30 524.00H138.70M140.50 524.00V530.00M138.30 527.00H142.70M144.50 528.00V534.00M142.30 531.00H146.70M148.50 528.33V534.33M146.30 531.33H150.70M152.50 528.75V534.75M150.30 531.75H154.70M156.50 530.00V536.00M154.30 533.00H158.70M168.00 542.40V548.40M165.80 545.40H170.20M172.00 547.60V553.60M169.80 550.60H174.20M176.00 547.60V553.60M173.80 550.60H178.20M184.00 549.90V555.90M181.80 552.90H186.20M190.00 555.00V561.00M187.80 558.00H192.20M203.50 569.50V575.50M201.30 572.50H205.70M226.50 575.00V581.00M224.30 578.00H228.70M230.55 575.00V581.00M228.35 578.00H232.75M234.60 575.00V581.00M232.40 578.00H236.80M242.70 576.80V582.80M240.50 579.80H244.90M255.40 580.50V586.50M253.20 583.50H257.60M280.80 580.85V586.85M278.60 583.85H283.00M284.85 580.92V586.92M282.65 583.92H287.05M288.90 580.98V586.98M286.70 583.98H291.10M292.95 581.01V587.01M290.75 584.01H295.15M297.00 581.08V587.08M294.80 584.08H299.20M306.00 581.20V587.20M303.80 584.20H308.20M325.00 587.00V593.00M322.80 590.00H327.20M338.70 587.00V593.00M336.50 590.00H340.90M367.00 591.10V597.10M364.80 594.10H369.20M380.80 591.10V597.10M378.60 594.10H383.00M391.50 591.10V597.10M389.30 594.10H393.70M395.35 591.10V597.10M393.15 594.10H397.55M399.20 591.10V597.10M397.00 594.10H401.40M428.50 591.10V597.10M426.30 594.10H430.70M454.60 591.10V597.10M452.40 594.10H456.80M459.20 591.10V597.10M457.00 594.10H461.40M476.00 591.10V597.10M473.80 594.10H478.20M488.50 591.10V597.10M486.30 594.10H490.70M491.95 591.10V597.10M489.75 594.10H494.15M495.40 591.10V597.10M493.20 594.10H497.60M498.85 591.10V597.10M496.65 594.10H501.05M502.30 591.10V597.10M500.10 594.10H504.50" stroke="#389a38" stroke-width="1.0" fill="none"/>
<path d="M101.00 504.00 L125.80 509.30 L135.00 514.00 L141.00 517.00 L148.80 520.80 L156.50 522.40 L164.00 524.00 L172.00 525.50 L175.40 527.50 L181.50 530.80 L187.30 534.20 L193.00 537.70 L198.80 540.60 L205.00 542.00 L221.00 544.60M232.00 548.00 L235.00 550.40 L246.00 553.80M334.40 553.80 L335.50 557.10 L342.90 559.20 L353.50 562.40 L362.00 567.70" fill="none" stroke="#e99c38" stroke-width="2.4" stroke-opacity="0.55" stroke-linecap="round" stroke-linejoin="round"/><path d="M89.60 503.40 L101.00 503.40 L101.00 504.00 L102.13 504.00 L102.13 504.48 L103.25 504.48 L104.38 504.48 L104.38 504.96 L105.51 504.96 L106.64 504.96 L106.64 505.45 L107.76 505.45 L108.89 505.45 L108.89 505.93 L110.02 505.93 L111.15 505.93 L111.15 506.41 L112.27 506.41 L113.40 506.41 L113.40 506.89 L114.53 506.89 L115.65 506.89 L115.65 507.37 L116.78 507.37 L117.91 507.37 L117.91 507.85 L119.04 507.85 L120.16 507.85 L120.16 508.34 L121.29 508.34 L122.42 508.34 L122.42 508.82 L123.55 508.82 L124.67 508.82 L124.67 509.30 L125.80 509.30 L126.95 509.30 L126.95 510.48 L128.10 510.48 L129.25 510.48 L129.25 511.65 L130.40 511.65 L131.55 511.65 L131.55 512.83 L132.70 512.83 L133.85 512.83 L133.85 514.00 L135.00 514.00 L136.00 514.00 L136.00 515.00 L137.00 515.00 L138.00 515.00 L138.00 516.00 L139.00 516.00 L140.00 516.00 L140.00 517.00 L141.00 517.00 L141.97 517.00 L141.97 517.95 L142.95 517.95 L143.93 517.95 L143.93 518.90 L144.90 518.90 L145.88 518.90 L145.88 519.85 L146.85 519.85 L147.83 519.85 L147.83 520.80 L148.80 520.80 L150.08 520.80 L150.08 521.33 L151.37 521.33 L152.65 521.33 L152.65 521.87 L153.93 521.87 L155.22 521.87 L155.22 522.40 L156.50 522.40 L157.75 522.40 L157.75 522.93 L159.00 522.93 L160.25 522.93 L160.25 523.47 L161.50 523.47 L162.75 523.47 L162.75 524.00 L164.00 524.00 L165.00 524.00 L165.00 524.38 L166.00 524.38 L167.00 524.38 L167.00 524.75 L168.00 524.75 L169.00 524.75 L169.00 525.12 L170.00 525.12 L171.00 525.12 L171.00 525.50 L172.00 525.50 L172.85 525.50 L172.85 526.50 L173.70 526.50 L174.55 526.50 L174.55 527.50 L175.40 527.50 L176.42 527.50 L176.42 528.60 L177.43 528.60 L178.45 528.60 L178.45 529.70 L179.47 529.70 L180.48 529.70 L180.48 530.80 L181.50 530.80 L182.47 530.80 L182.47 531.93 L183.43 531.93 L184.40 531.93 L184.40 533.07 L185.37 533.07 L186.33 533.07 L186.33 534.20 L187.30 534.20 L188.25 534.20 L188.25 535.37 L189.20 535.37 L190.15 535.37 L190.15 536.53 L191.10 536.53 L192.05 536.53 L192.05 537.70 L193.00 537.70 L193.97 537.70 L193.97 538.67 L194.93 538.67 L195.90 538.67 L195.90 539.63 L196.87 539.63 L197.83 539.63 L197.83 540.60 L198.80 540.60 L199.83 540.60 L199.83 541.07 L200.87 541.07 L201.90 541.07 L201.90 541.53 L202.93 541.53 L203.97 541.53 L203.97 542.00 L205.00 542.00 L206.14 542.00 L206.14 542.37 L207.29 542.37 L208.43 542.37 L208.43 542.74 L209.57 542.74 L210.71 542.74 L210.71 543.11 L211.86 543.11 L213.00 543.11 L213.00 543.49 L214.14 543.49 L215.29 543.49 L215.29 543.86 L216.43 543.86 L217.57 543.86 L217.57 544.23 L218.71 544.23 L219.86 544.23 L219.86 544.60 L221.00 544.60 L221.00 548.00 L232.00 548.00 L233.50 548.00 L233.50 550.40 L235.00 550.40 L236.10 550.40 L236.10 551.08 L237.20 551.08 L238.30 551.08 L238.30 551.76 L239.40 551.76 L240.50 551.76 L240.50 552.44 L241.60 552.44 L242.70 552.44 L242.70 553.12 L243.80 553.12 L244.90 553.12 L244.90 553.80 L246.00 553.80 L334.40 553.80 L334.95 553.80 L334.95 557.10 L335.50 557.10 L336.73 557.10 L336.73 557.80 L337.97 557.80 L339.20 557.80 L339.20 558.50 L340.43 558.50 L341.67 558.50 L341.67 559.20 L342.90 559.20 L343.96 559.20 L343.96 559.84 L345.02 559.84 L346.08 559.84 L346.08 560.48 L347.14 560.48 L348.20 560.48 L348.20 561.12 L349.26 561.12 L350.32 561.12 L350.32 561.76 L351.38 561.76 L352.44 561.76 L352.44 562.40 L353.50 562.40 L354.56 562.40 L354.56 563.73 L355.62 563.73 L356.69 563.73 L356.69 565.05 L357.75 565.05 L358.81 565.05 L358.81 566.38 L359.88 566.38 L360.94 566.38 L360.94 567.70 L362.00 567.70 L410.60 567.70 L410.60 570.90 L506.00 570.90" fill="none" stroke="#e99c38" stroke-width="1.2" stroke-linejoin="miter"/>
<path d="M138.00 513.00V519.00M135.80 516.00H140.20M141.08 514.00V520.00M138.88 517.00H143.28M144.16 515.90V521.90M141.96 518.90H146.36M147.24 516.85V522.85M145.04 519.85H149.44M150.32 518.33V524.33M148.12 521.33H152.52M153.39 518.87V524.87M151.19 521.87H155.59M156.47 519.40V525.40M154.27 522.40H158.67M159.55 519.93V525.93M157.35 522.93H161.75M162.63 520.47V526.47M160.43 523.47H164.83M165.71 521.38V527.38M163.51 524.38H167.91M168.79 521.75V527.75M166.59 524.75H170.99M171.87 522.50V528.50M169.67 525.50H174.07M174.95 524.50V530.50M172.75 527.50H177.15M178.03 525.60V531.60M175.83 528.60H180.23M181.11 527.80V533.80M178.91 530.80H183.31M184.18 528.93V534.93M181.98 531.93H186.38M187.26 531.20V537.20M185.06 534.20H189.46M190.34 533.53V539.53M188.14 536.53H192.54M193.42 534.70V540.70M191.22 537.70H195.62M196.50 536.63V542.63M194.30 539.63H198.70M200.00 538.07V544.07M197.80 541.07H202.20M204.16 539.00V545.00M201.96 542.00H206.36M208.32 539.37V545.37M206.12 542.37H210.52M212.48 540.11V546.11M210.28 543.11H214.68M216.64 540.86V546.86M214.44 543.86H218.84M220.80 541.60V547.60M218.60 544.60H223.00M230.00 545.00V551.00M227.80 548.00H232.20M237.70 548.08V554.08M235.50 551.08H239.90M240.77 549.44V555.44M238.57 552.44H242.97M243.85 550.12V556.12M241.65 553.12H246.05M246.93 550.80V556.80M244.73 553.80H249.12M250.00 550.80V556.80M247.80 553.80H252.20M256.00 550.80V556.80M253.80 553.80H258.20M259.13 550.80V556.80M256.93 553.80H261.33M262.27 550.80V556.80M260.07 553.80H264.47M265.40 550.80V556.80M263.20 553.80H267.60M274.60 550.80V556.80M272.40 553.80H276.80M277.70 550.80V556.80M275.50 553.80H279.90M280.80 550.80V556.80M278.60 553.80H283.00M283.90 550.80V556.80M281.70 553.80H286.10M287.00 550.80V556.80M284.80 553.80H289.20M293.00 550.80V556.80M290.80 553.80H295.20M299.20 550.80V556.80M297.00 553.80H301.40M305.40 550.80V556.80M303.20 553.80H307.60M337.70 554.80V560.80M335.50 557.80H339.90M353.00 559.40V565.40M350.80 562.40H355.20M356.10 560.73V566.73M353.90 563.73H358.30M359.20 563.38V569.38M357.00 566.38H361.40M362.30 564.70V570.70M360.10 567.70H364.50M365.40 564.70V570.70M363.20 567.70H367.60M371.50 564.70V570.70M369.30 567.70H373.70M374.58 564.70V570.70M372.38 567.70H376.78M377.67 564.70V570.70M375.47 567.70H379.87M380.75 564.70V570.70M378.55 567.70H382.95M383.83 564.70V570.70M381.63 567.70H386.03M386.92 564.70V570.70M384.72 567.70H389.12M390.00 564.70V570.70M387.80 567.70H392.20M397.70 564.70V570.70M395.50 567.70H399.90M400.80 564.70V570.70M398.60 567.70H403.00M411.50 567.90V573.90M409.30 570.90H413.70M436.00 567.90V573.90M433.80 570.90H438.20M442.30 567.90V573.90M440.10 570.90H444.50M446.90 567.90V573.90M444.70 570.90H449.10M451.50 567.90V573.90M449.30 570.90H453.70M460.80 567.90V573.90M458.60 570.90H463.00M473.00 567.90V573.90M470.80 570.90H475.20M477.13 567.90V573.90M474.93 570.90H479.33M481.27 567.90V573.90M479.07 570.90H483.47M485.40 567.90V573.90M483.20 570.90H487.60M494.60 567.90V573.90M492.40 570.90H496.80M496.90 567.90V573.90M494.70 570.90H499.10M499.20 567.90V573.90M497.00 570.90H501.40M501.50 567.90V573.90M499.30 570.90H503.70M503.80 567.90V573.90M501.60 570.90H506.00" stroke="#e99c38" stroke-width="1.0" fill="none"/>
<path d="M101.00 503.40 L108.00 504.70 L126.50 507.70 L138.00 511.00 L154.20 513.50 L172.70 514.60 L184.20 516.20 L205.00 517.00 L214.00 519.20 L290.00 519.50 L378.80 520.40" fill="none" stroke="#25406c" stroke-width="2.4" stroke-opacity="0.55" stroke-linecap="round" stroke-linejoin="round"/><path d="M89.60 503.40 L101.00 503.40 L102.17 503.40 L102.17 503.83 L103.33 503.83 L104.50 503.83 L104.50 504.27 L105.67 504.27 L106.83 504.27 L106.83 504.70 L108.00 504.70 L109.16 504.70 L109.16 505.07 L110.31 505.07 L111.47 505.07 L111.47 505.45 L112.62 505.45 L113.78 505.45 L113.78 505.82 L114.94 505.82 L116.09 505.82 L116.09 506.20 L117.25 506.20 L118.41 506.20 L118.41 506.57 L119.56 506.57 L120.72 506.57 L120.72 506.95 L121.88 506.95 L123.03 506.95 L123.03 507.32 L124.19 507.32 L125.34 507.32 L125.34 507.70 L126.50 507.70 L127.65 507.70 L127.65 508.36 L128.80 508.36 L129.95 508.36 L129.95 509.02 L131.10 509.02 L132.25 509.02 L132.25 509.68 L133.40 509.68 L134.55 509.68 L134.55 510.34 L135.70 510.34 L136.85 510.34 L136.85 511.00 L138.00 511.00 L139.16 511.00 L139.16 511.36 L140.31 511.36 L141.47 511.36 L141.47 511.71 L142.63 511.71 L143.79 511.71 L143.79 512.07 L144.94 512.07 L146.10 512.07 L146.10 512.43 L147.26 512.43 L148.41 512.43 L148.41 512.79 L149.57 512.79 L150.73 512.79 L150.73 513.14 L151.89 513.14 L153.04 513.14 L153.04 513.50 L154.20 513.50 L155.36 513.50 L155.36 513.64 L156.51 513.64 L157.67 513.64 L157.67 513.77 L158.82 513.77 L159.98 513.77 L159.98 513.91 L161.14 513.91 L162.29 513.91 L162.29 514.05 L163.45 514.05 L164.61 514.05 L164.61 514.19 L165.76 514.19 L166.92 514.19 L166.92 514.33 L168.07 514.33 L169.23 514.33 L169.23 514.46 L170.39 514.46 L171.54 514.46 L171.54 514.60 L172.70 514.60 L173.85 514.60 L173.85 514.92 L175.00 514.92 L176.15 514.92 L176.15 515.24 L177.30 515.24 L178.45 515.24 L178.45 515.56 L179.60 515.56 L180.75 515.56 L180.75 515.88 L181.90 515.88 L183.05 515.88 L183.05 516.20 L184.20 516.20 L185.36 516.20 L185.36 516.29 L186.51 516.29 L187.67 516.29 L187.67 516.38 L188.82 516.38 L189.98 516.38 L189.98 516.47 L191.13 516.47 L192.29 516.47 L192.29 516.56 L193.44 516.56 L194.60 516.56 L194.60 516.64 L195.76 516.64 L196.91 516.64 L196.91 516.73 L198.07 516.73 L199.22 516.73 L199.22 516.82 L200.38 516.82 L201.53 516.82 L201.53 516.91 L202.69 516.91 L203.84 516.91 L203.84 517.00 L205.00 517.00 L206.12 517.00 L206.12 517.55 L207.25 517.55 L208.38 517.55 L208.38 518.10 L209.50 518.10 L210.62 518.10 L210.62 518.65 L211.75 518.65 L212.88 518.65 L212.88 519.20 L214.00 519.20 L215.09 519.20 L215.09 519.21 L216.17 519.21 L217.26 519.21 L217.26 519.22 L218.34 519.22 L219.43 519.22 L219.43 519.23 L220.51 519.23 L221.60 519.23 L221.60 519.23 L222.69 519.23 L223.77 519.23 L223.77 519.24 L224.86 519.24 L225.94 519.24 L225.94 519.25 L227.03 519.25 L228.11 519.25 L228.11 519.26 L229.20 519.26 L230.29 519.26 L230.29 519.27 L231.37 519.27 L232.46 519.27 L232.46 519.28 L233.54 519.28 L234.63 519.28 L234.63 519.29 L235.71 519.29 L236.80 519.29 L236.80 519.29 L237.89 519.29 L238.97 519.29 L238.97 519.30 L240.06 519.30 L241.14 519.30 L241.14 519.31 L242.23 519.31 L243.31 519.31 L243.31 519.32 L244.40 519.32 L245.49 519.32 L245.49 519.33 L246.57 519.33 L247.66 519.33 L247.66 519.34 L248.74 519.34 L249.83 519.34 L249.83 519.35 L250.91 519.35 L252.00 519.35 L252.00 519.35 L253.09 519.35 L254.17 519.35 L254.17 519.36 L255.26 519.36 L256.34 519.36 L256.34 519.37 L257.43 519.37 L258.51 519.37 L258.51 519.38 L259.60 519.38 L260.69 519.38 L260.69 519.39 L261.77 519.39 L262.86 519.39 L262.86 519.40 L263.94 519.40 L265.03 519.40 L265.03 519.41 L266.11 519.41 L267.20 519.41 L267.20 519.41 L268.29 519.41 L269.37 519.41 L269.37 519.42 L270.46 519.42 L271.54 519.42 L271.54 519.43 L272.63 519.43 L273.71 519.43 L273.71 519.44 L274.80 519.44 L275.89 519.44 L275.89 519.45 L276.97 519.45 L278.06 519.45 L278.06 519.46 L279.14 519.46 L280.23 519.46 L280.23 519.47 L281.31 519.47 L282.40 519.47 L282.40 519.47 L283.49 519.47 L284.57 519.47 L284.57 519.48 L285.66 519.48 L286.74 519.48 L286.74 519.49 L287.83 519.49 L288.91 519.49 L288.91 519.50 L290.00 519.50 L291.11 519.50 L291.11 519.52 L292.22 519.52 L293.33 519.52 L293.33 519.54 L294.44 519.54 L295.55 519.54 L295.55 519.57 L296.66 519.57 L297.77 519.57 L297.77 519.59 L298.88 519.59 L299.99 519.59 L299.99 519.61 L301.10 519.61 L302.21 519.61 L302.21 519.63 L303.32 519.63 L304.43 519.63 L304.43 519.66 L305.54 519.66 L306.65 519.66 L306.65 519.68 L307.76 519.68 L308.87 519.68 L308.87 519.70 L309.98 519.70 L311.09 519.70 L311.09 519.73 L312.20 519.73 L313.31 519.73 L313.31 519.75 L314.42 519.75 L315.53 519.75 L315.53 519.77 L316.64 519.77 L317.75 519.77 L317.75 519.79 L318.86 519.79 L319.97 519.79 L319.97 519.81 L321.08 519.81 L322.19 519.81 L322.19 519.84 L323.30 519.84 L324.41 519.84 L324.41 519.86 L325.52 519.86 L326.63 519.86 L326.63 519.88 L327.74 519.88 L328.85 519.88 L328.85 519.90 L329.96 519.90 L331.07 519.90 L331.07 519.93 L332.18 519.93 L333.29 519.93 L333.29 519.95 L334.40 519.95 L335.51 519.95 L335.51 519.97 L336.62 519.97 L337.73 519.97 L337.73 520.00 L338.84 520.00 L339.95 520.00 L339.95 520.02 L341.06 520.02 L342.17 520.02 L342.17 520.04 L343.28 520.04 L344.39 520.04 L344.39 520.06 L345.50 520.06 L346.61 520.06 L346.61 520.09 L347.72 520.09 L348.83 520.09 L348.83 520.11 L349.94 520.11 L351.05 520.11 L351.05 520.13 L352.16 520.13 L353.27 520.13 L353.27 520.15 L354.38 520.15 L355.49 520.15 L355.49 520.17 L356.60 520.17 L357.71 520.17 L357.71 520.20 L358.82 520.20 L359.93 520.20 L359.93 520.22 L361.04 520.22 L362.15 520.22 L362.15 520.24 L363.26 520.24 L364.37 520.24 L364.37 520.26 L365.48 520.26 L366.59 520.26 L366.59 520.29 L367.70 520.29 L368.81 520.29 L368.81 520.31 L369.92 520.31 L371.03 520.31 L371.03 520.33 L372.14 520.33 L373.25 520.33 L373.25 520.36 L374.36 520.36 L375.47 520.36 L375.47 520.38 L376.58 520.38 L377.69 520.38 L377.69 520.40 L378.80 520.40 L378.80 523.30 L506.00 523.30" fill="none" stroke="#25406c" stroke-width="1.2" stroke-linejoin="miter"/>
<path d="M135.00 507.34V513.34M132.80 510.34H137.20M137.74 508.00V514.00M135.54 511.00H139.94M140.47 508.36V514.36M138.27 511.36H142.67M143.21 508.71V514.71M141.01 511.71H145.41M145.95 509.07V515.07M143.75 512.07H148.15M148.68 509.79V515.79M146.48 512.79H150.88M151.42 510.14V516.14M149.22 513.14H153.62M154.16 510.50V516.50M151.96 513.50H156.36M156.89 510.64V516.64M154.69 513.64H159.09M159.63 510.77V516.77M157.43 513.77H161.83M162.37 511.05V517.05M160.17 514.05H164.57M165.11 511.19V517.19M162.91 514.19H167.31M167.84 511.33V517.33M165.64 514.33H170.04M170.58 511.46V517.46M168.38 514.46H172.78M173.32 511.60V517.60M171.12 514.60H175.52M176.05 511.92V517.92M173.85 514.92H178.25M178.79 512.56V518.56M176.59 515.56H180.99M181.53 512.88V518.88M179.33 515.88H183.73M184.26 513.20V519.20M182.06 516.20H186.46M187.00 513.29V519.29M184.80 516.29H189.20M196.50 513.64V519.64M194.30 516.64H198.70M201.88 513.91V519.91M199.68 516.91H204.07M207.25 514.55V520.55M205.05 517.55H209.45M212.62 515.65V521.65M210.43 518.65H214.82M218.00 516.22V522.22M215.80 519.22H220.20M233.50 516.28V522.28M231.30 519.28H235.70M237.38 516.29V522.29M235.18 519.29H239.57M241.25 516.31V522.31M239.05 519.31H243.45M245.12 516.32V522.32M242.93 519.32H247.32M249.00 516.34V522.34M246.80 519.34H251.20M252.50 516.35V522.35M250.30 519.35H254.70M260.00 516.38V522.38M257.80 519.38H262.20M262.50 516.39V522.39M260.30 519.39H264.70M270.00 516.42V522.42M267.80 519.42H272.20M272.86 516.43V522.43M270.66 519.43H275.06M275.71 516.44V522.44M273.51 519.44H277.91M278.57 516.46V522.46M276.37 519.46H280.77M281.43 516.47V522.47M279.23 519.47H283.63M284.29 516.47V522.47M282.09 519.47H286.49M287.14 516.49V522.49M284.94 519.49H289.34M290.00 516.50V522.50M287.80 519.50H292.20M298.75 516.59V522.59M296.55 519.59H300.95M301.00 516.61V522.61M298.80 519.61H303.20M310.00 516.70V522.70M307.80 519.70H312.20M326.00 516.86V522.86M323.80 519.86H328.20M343.75 517.04V523.04M341.55 520.04H345.95M345.00 517.06V523.06M342.80 520.06H347.20M363.75 517.24V523.24M361.55 520.24H365.95M366.41 517.26V523.26M364.21 520.26H368.61M369.07 517.31V523.31M366.87 520.31H371.27M371.73 517.33V523.33M369.53 520.33H373.93M374.39 517.36V523.36M372.19 520.36H376.59M377.05 517.38V523.38M374.85 520.38H379.25M379.70 520.30V526.30M377.50 523.30H381.90M382.36 520.30V526.30M380.16 523.30H384.56M385.02 520.30V526.30M382.82 523.30H387.22M387.68 520.30V526.30M385.48 523.30H389.88M390.34 520.30V526.30M388.14 523.30H392.54M393.00 520.30V526.30M390.80 523.30H395.20M405.00 520.30V526.30M402.80 523.30H407.20M408.00 520.30V526.30M405.80 523.30H410.20M411.40 520.30V526.30M409.20 523.30H413.60M443.80 520.30V526.30M441.60 523.30H446.00M447.70 520.30V526.30M445.50 523.30H449.90M456.80 520.30V526.30M454.60 523.30H459.00M464.60 520.30V526.30M462.40 523.30H466.80M477.60 520.30V526.30M475.40 523.30H479.80M480.08 520.30V526.30M477.88 523.30H482.28M482.56 520.30V526.30M480.36 523.30H484.76M485.05 520.30V526.30M482.85 523.30H487.25M487.53 520.30V526.30M485.33 523.30H489.73M490.01 520.30V526.30M487.81 523.30H492.21M492.49 520.30V526.30M490.29 523.30H494.69M494.97 520.30V526.30M492.77 523.30H497.17M497.45 520.30V526.30M495.25 523.30H499.65M499.94 520.30V526.30M497.74 523.30H502.14M502.42 520.30V526.30M500.22 523.30H504.62M504.90 520.30V526.30M502.70 523.30H507.10" stroke="#25406c" stroke-width="1.0" fill="none"/>
<path d="M89.60 503.40 L101.00 503.40 L101.00 504.70 L180.00 504.70 L180.00 505.40 L230.00 505.40 L230.00 506.00 L308.00 506.00 L308.00 511.30 L506.00 511.30" fill="none" stroke="#bd2550" stroke-width="1.2" stroke-linejoin="miter"/>
<path d="M113.50 501.70V507.70M111.30 504.70H115.70M130.40 501.70V507.70M128.20 504.70H132.60M141.00 501.70V507.70M138.80 504.70H143.20M143.86 501.70V507.70M141.66 504.70H146.06M146.71 501.70V507.70M144.51 504.70H148.91M149.57 501.70V507.70M147.37 504.70H151.77M152.43 501.70V507.70M150.23 504.70H154.63M155.29 501.70V507.70M153.09 504.70H157.49M158.14 501.70V507.70M155.94 504.70H160.34M161.00 501.70V507.70M158.80 504.70H163.20M164.00 501.70V507.70M161.80 504.70H166.20M166.60 501.70V507.70M164.40 504.70H168.80M169.20 501.70V507.70M167.00 504.70H171.40M171.80 501.70V507.70M169.60 504.70H174.00M174.40 501.70V507.70M172.20 504.70H176.60M177.00 501.70V507.70M174.80 504.70H179.20M179.60 501.70V507.70M177.40 504.70H181.80M184.00 502.40V508.40M181.80 505.40H186.20M187.12 502.40V508.40M184.93 505.40H189.32M190.25 502.40V508.40M188.05 505.40H192.45M193.38 502.40V508.40M191.18 505.40H195.57M196.50 502.40V508.40M194.30 505.40H198.70M224.00 502.40V508.40M221.80 505.40H226.20M235.00 503.00V509.00M232.80 506.00H237.20M238.00 503.00V509.00M235.80 506.00H240.20M252.00 503.00V509.00M249.80 506.00H254.20M257.50 503.00V509.00M255.30 506.00H259.70M263.75 503.00V509.00M261.55 506.00H265.95M276.00 503.00V509.00M273.80 506.00H278.20M282.50 503.00V509.00M280.30 506.00H284.70M290.00 503.00V509.00M287.80 506.00H292.20M320.00 508.30V514.30M317.80 511.30H322.20M345.00 508.30V514.30M342.80 511.30H347.20M363.75 508.30V514.30M361.55 511.30H365.95M366.25 508.30V514.30M364.05 511.30H368.45M368.75 508.30V514.30M366.55 511.30H370.95M375.00 508.30V514.30M372.80 511.30H377.20M385.40 508.30V514.30M383.20 511.30H387.60M392.00 508.30V514.30M389.80 511.30H394.20M403.60 508.30V514.30M401.40 511.30H405.80M424.40 508.30V514.30M422.20 511.30H426.60M428.20 508.30V514.30M426.00 511.30H430.40M451.60 508.30V514.30M449.40 511.30H453.80M453.00 508.30V514.30M450.80 511.30H455.20M482.80 508.30V514.30M480.60 511.30H485.00M490.60 508.30V514.30M488.40 511.30H492.80M493.20 508.30V514.30M491.00 511.30H495.40M495.80 508.30V514.30M493.60 511.30H498.00M503.60 508.30V514.30M501.40 511.30H505.80" stroke="#bd2550" stroke-width="1.0" fill="none"/>
<rect x="0.5" y="0.5" width="519" height="863" fill="none" stroke="#222" stroke-width="1"/>
</svg>
</body></html>
